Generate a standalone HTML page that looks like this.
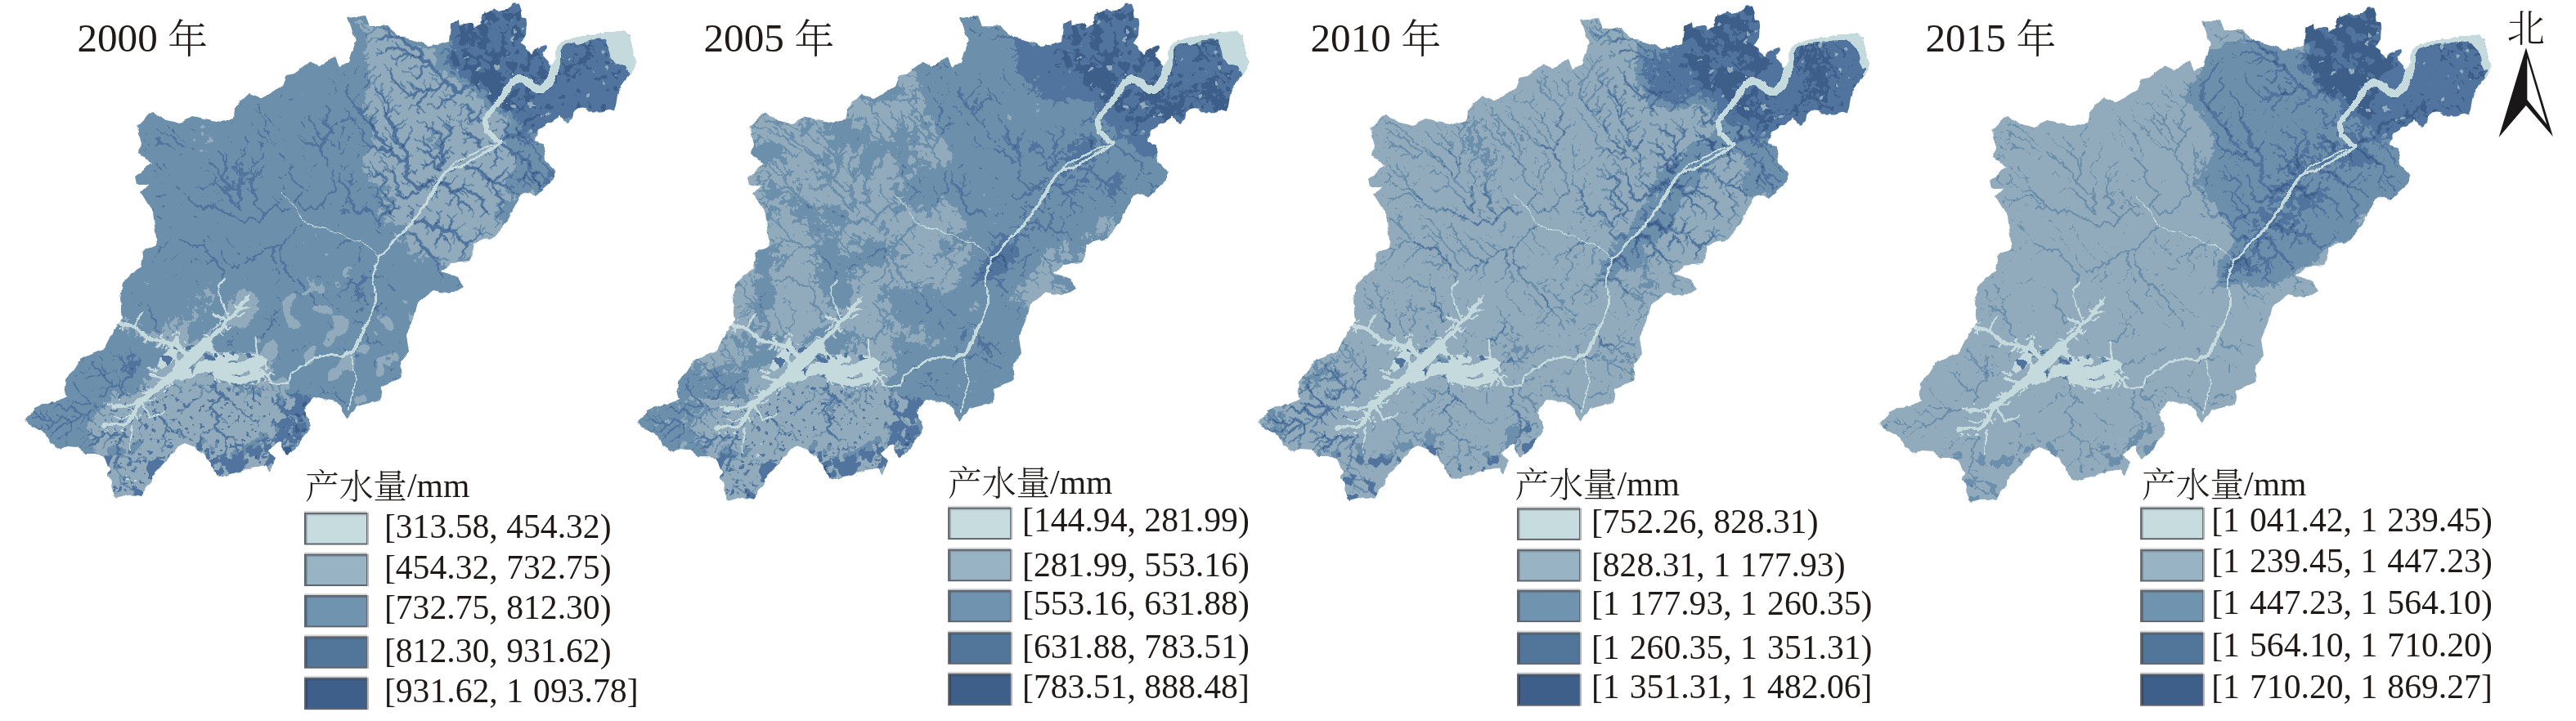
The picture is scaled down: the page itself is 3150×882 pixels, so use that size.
<!DOCTYPE html>
<html lang="zh"><head><meta charset="utf-8"><title>产水量</title>
<style>
html,body{margin:0;padding:0;background:#fff;}
body{width:3150px;height:882px;overflow:hidden;}
svg{display:block;}
text{fill:#1f1a17;font-weight:300;}
.tt{font-family:"Liberation Serif","Noto Serif CJK SC",serif;font-size:49.2px;}
.lt{font-family:"Liberation Serif","Noto Serif CJK SC",serif;font-size:41.67px;}
.lr{font-family:"Liberation Serif","Noto Serif CJK SC",serif;font-size:41.67px;}
.nn{font-family:"Liberation Serif","Noto Serif CJK SC",serif;font-size:46.5px;}
</style></head><body>
<svg width="3150" height="882" viewBox="0 0 3150 882">
<defs><clipPath id="clip"><path d="M360.0 90.0 L350.0 92.0 L345.0 105.0 L320.0 120.0 L305.0 114.0 L287.0 131.0 L286.0 145.0 L270.0 149.0 L250.0 145.0 L235.0 142.0 L220.0 150.0 L200.0 145.0 L186.0 136.0 L167.0 155.0 L172.0 175.0 L170.0 187.0 L185.0 200.0 L165.0 216.0 L167.0 225.0 L182.0 225.0 L172.0 235.0 L187.0 260.0 L192.0 300.0 L175.0 307.0 L172.0 325.0 L150.0 347.0 L147.0 365.0 L150.0 390.0 L137.0 407.0 L127.0 427.0 L115.0 432.0 L97.5 440.0 L90.0 452.0 L80.0 464.0 L79.0 474.0 L82.0 485.0 L72.0 490.0 L60.0 492.0 L51.0 495.0 L42.0 499.0 L37.0 506.0 L31.0 512.0 L35.0 519.0 L46.0 525.0 L55.0 530.0 L60.0 540.0 L75.0 550.0 L82.0 546.0 L94.0 547.0 L105.0 555.0 L117.0 555.0 L127.0 560.0 L132.0 570.0 L135.0 575.0 L131.0 579.0 L136.0 590.0 L135.0 595.0 L142.0 609.0 L160.0 604.0 L172.0 607.0 L180.0 595.0 L186.0 590.0 L185.0 582.0 L197.0 570.0 L207.0 560.0 L217.0 547.0 L227.0 541.0 L240.0 550.0 L250.0 557.0 L257.0 565.0 L262.0 577.0 L269.0 584.0 L282.0 580.0 L300.0 575.0 L312.0 572.0 L325.0 570.0 L330.0 577.0 L337.0 560.0 L327.0 552.0 L342.0 540.0 L350.0 557.0 L365.0 545.0 L380.0 520.0 L372.0 500.0 L385.0 485.0 L412.0 492.0 L425.0 512.0 L437.0 497.0 L465.0 490.0 L467.0 472.0 L492.0 462.0 L490.0 442.0 L500.0 430.0 L497.0 410.0 L505.0 390.0 L510.0 370.0 L530.0 355.0 L550.0 360.0 L567.0 350.0 L560.0 340.0 L540.0 332.0 L550.0 322.0 L575.0 320.0 L577.0 315.0 L580.0 297.0 L605.0 290.0 L620.0 272.0 L630.0 250.0 L640.0 235.0 L655.0 240.0 L677.0 220.0 L680.0 210.0 L667.0 197.0 L665.0 177.0 L655.0 172.0 L657.0 160.0 L685.0 142.0 L693.0 150.0 L700.0 145.0 L701.5 136.5 L710.0 131.5 L715.0 132.0 L720.0 136.5 L736.0 136.5 L743.0 134.0 L751.0 136.5 L753.0 128.0 L756.0 113.0 L760.0 105.0 L766.0 96.5 L770.0 91.5 L775.5 81.6 L779.0 74.0 L774.7 66.6 L772.0 53.0 L769.7 43.3 L763.0 39.0 L743.0 39.0 L720.0 43.3 L700.0 46.6 L686.5 51.6 L681.5 56.6 L679.0 70.0 L676.0 78.0 L673.0 80.0 L670.0 76.6 L664.0 70.0 L665.0 63.0 L669.0 57.4 L668.0 55.0 L661.6 56.6 L653.0 60.8 L651.6 65.8 L645.0 60.8 L641.6 56.6 L636.6 53.3 L643.0 43.0 L643.6 33.0 L642.4 22.0 L637.8 21.6 L636.5 13.0 L633.6 4.6 L626.5 4.6 L621.0 10.8 L610.0 13.0 L603.0 11.6 L594.5 16.0 L593.7 12.5 L593.0 16.0 L589.5 18.0 L587.5 26.0 L588.0 28.0 L580.8 33.0 L577.5 28.0 L568.0 30.0 L561.7 30.8 L561.0 25.0 L552.0 30.0 L550.0 50.0 L525.0 57.0 L510.0 50.0 L490.0 45.0 L475.0 32.0 L452.0 32.0 L447.0 19.0 L425.0 22.0 L435.0 50.0 L427.0 75.0 L415.0 82.0 L410.0 70.0 L390.0 80.0 L380.0 75.0Z"/></clipPath>
<mask id="mMID" maskUnits="userSpaceOnUse" x="-10" y="-10" width="820" height="640"><g filter="url(#mb10)"><polygon points="280.0,340.0 400.0,320.0 480.0,340.0 500.0,420.0 470.0,490.0 380.0,500.0 330.0,470.0 300.0,420.0" fill="#fff"/></g></mask>
<mask id="mSE" maskUnits="userSpaceOnUse" x="-10" y="-10" width="820" height="640"><g filter="url(#mb4)"><polygon points="337.0,469.0 360.0,475.0 385.0,480.0 395.0,520.0 380.0,560.0 340.0,590.0 250.0,600.0 249.0,560.0 300.0,545.0 335.0,520.0" fill="#fff"/></g></mask>
<mask id="mNEW" maskUnits="userSpaceOnUse" x="-10" y="-10" width="820" height="640"><g filter="url(#mb4)"><polygon points="550.0,0.0 650.0,0.0 650.0,60.0 640.0,100.0 625.0,152.0 612.0,130.0 590.0,128.0 570.0,108.0 548.0,80.0 548.0,30.0" fill="#fff"/></g></mask>
<mask id="mW" maskUnits="userSpaceOnUse" x="-10" y="-10" width="820" height="640"><g filter="url(#mb10)"><polygon points="0.0,0.0 420.0,0.0 440.0,120.0 400.0,250.0 330.0,360.0 280.0,420.0 200.0,470.0 120.0,480.0 0.0,560.0" fill="#fff"/></g></mask>
<mask id="mC" maskUnits="userSpaceOnUse" x="-10" y="-10" width="820" height="640"><g filter="url(#mb10)"><polygon points="425.0,20.0 470.0,30.0 520.0,60.0 560.0,100.0 600.0,125.0 640.0,140.0 660.0,165.0 670.0,200.0 680.0,215.0 655.0,245.0 630.0,255.0 605.0,295.0 575.0,320.0 545.0,330.0 520.0,320.0 500.0,290.0 470.0,270.0 455.0,235.0 437.0,205.0 448.0,170.0 438.0,140.0 452.0,100.0 440.0,75.0 445.0,50.0" fill="#fff"/></g></mask>
<mask id="mS" maskUnits="userSpaceOnUse" x="-10" y="-10" width="820" height="640"><g filter="url(#mb10)"><polygon points="130.0,480.0 200.0,470.0 260.0,465.0 330.0,470.0 360.0,480.0 380.0,520.0 360.0,560.0 300.0,600.0 130.0,620.0 125.0,560.0" fill="#fff"/></g></mask>
<mask id="mSB" maskUnits="userSpaceOnUse" x="-10" y="-10" width="820" height="640"><g filter="url(#mb10)"><polygon points="120.0,540.0 180.0,560.0 230.0,540.0 270.0,560.0 340.0,540.0 385.0,500.0 400.0,560.0 300.0,620.0 120.0,620.0" fill="#fff"/></g></mask>
<mask id="mNE" maskUnits="userSpaceOnUse" x="-10" y="-10" width="820" height="640"><g filter="url(#mb4)"><polygon points="550.0,0.0 800.0,0.0 800.0,145.0 690.0,152.0 655.0,165.0 625.0,152.0 612.0,130.0 590.0,128.0 570.0,108.0 548.0,80.0 548.0,30.0" fill="#fff"/></g></mask>
<mask id="mCORR" maskUnits="userSpaceOnUse" x="-10" y="-10" width="820" height="640"><g filter="url(#mb10)"><polygon points="600.0,135.0 625.0,170.0 580.0,215.0 550.0,235.0 535.0,270.0 500.0,310.0 480.0,345.0 455.0,350.0 450.0,320.0 480.0,280.0 505.0,240.0 520.0,205.0 560.0,185.0 585.0,160.0" fill="#fff"/></g></mask>
<mask id="mC3" maskUnits="userSpaceOnUse" x="-10" y="-10" width="820" height="640"><g filter="url(#mb10)"><polygon points="424.0,67.0 460.0,50.0 500.0,45.0 550.0,60.0 600.0,100.0 690.0,150.0 692.0,215.0 670.0,245.0 640.0,262.0 613.0,283.0 585.0,295.0 535.0,328.0 502.0,350.0 452.0,335.0 463.0,261.0 424.0,217.0 435.0,161.0 413.0,106.0" fill="#fff"/></g></mask>
<mask id="mSW" maskUnits="userSpaceOnUse" x="-10" y="-10" width="820" height="640"><g filter="url(#mb10)"><polygon points="30.0,480.0 120.0,440.0 170.0,480.0 150.0,540.0 90.0,560.0 30.0,530.0" fill="#fff"/></g></mask>
<filter id="mb4" x="-60" y="-60" width="920" height="740" filterUnits="userSpaceOnUse" color-interpolation-filters="sRGB"><feTurbulence type="fractalNoise" baseFrequency="0.022" numOctaves="2" seed="9" result="t"/><feDisplacementMap in="SourceGraphic" in2="t" scale="45" xChannelSelector="R" yChannelSelector="G"/><feGaussianBlur stdDeviation="4"/></filter>
<filter id="mb10" x="-60" y="-60" width="920" height="740" filterUnits="userSpaceOnUse" color-interpolation-filters="sRGB"><feTurbulence type="fractalNoise" baseFrequency="0.022" numOctaves="2" seed="9" result="t"/><feDisplacementMap in="SourceGraphic" in2="t" scale="45" xChannelSelector="R" yChannelSelector="G"/><feGaussianBlur stdDeviation="10"/></filter>
<mask id="mLake" maskUnits="userSpaceOnUse" x="-10" y="-10" width="820" height="640"><use href="#lakeh" stroke="#fff" stroke-width="17"/></mask>
<filter id="blur" x="-60" y="-60" width="920" height="740" filterUnits="userSpaceOnUse" color-interpolation-filters="sRGB"><feTurbulence type="fractalNoise" baseFrequency="0.022" numOctaves="2" seed="9" result="t"/><feDisplacementMap in="SourceGraphic" in2="t" scale="45" xChannelSelector="R" yChannelSelector="G"/><feGaussianBlur stdDeviation="5"/></filter>
<filter id="blur1" x="-60" y="-60" width="920" height="740" filterUnits="userSpaceOnUse" color-interpolation-filters="sRGB"><feGaussianBlur stdDeviation="0.8"/></filter>
<filter id="rough" x="-10" y="-10" width="820" height="640" filterUnits="userSpaceOnUse" color-interpolation-filters="sRGB"><feTurbulence type="fractalNoise" baseFrequency="0.09" numOctaves="2" seed="4" result="t"/><feDisplacementMap in="SourceGraphic" in2="t" scale="5" xChannelSelector="R" yChannelSelector="G"/></filter>
<filter id="q0" x="0" y="0" width="800" height="620" filterUnits="userSpaceOnUse" color-interpolation-filters="sRGB"><feTurbulence type="fractalNoise" baseFrequency="0.015" numOctaves="3" seed="3" result="n0"/><feColorMatrix in="n0" type="matrix" values="1 0 0 0 0  1 0 0 0 0  1 0 0 0 0  0 0 0 0 1" result="n1"/><feTurbulence type="fractalNoise" baseFrequency="0.12" numOctaves="3" seed="53" result="m0"/><feColorMatrix in="m0" type="matrix" values="1 0 0 0 0  1 0 0 0 0  1 0 0 0 0  0 0 0 0 1" result="m1"/><feComposite in="n1" in2="m1" operator="arithmetic" k1="0" k2="0.300" k3="0.160" k4="0.270" result="nm"/><feComposite in="SourceGraphic" in2="nm" operator="arithmetic" k1="0" k2="1" k3="1" k4="-0.5" result="a"/><feColorMatrix in="a" type="matrix" values="1 0 0 0 0  0 1 0 0 0  0 0 1 0 0  0 0 0 0 1" result="c"/><feComponentTransfer in="c"><feFuncR type="discrete" tableValues="0.776 0.776 0.776 0.776 0.569 0.569 0.569 0.569 0.427 0.427 0.427 0.427 0.314 0.314 0.314 0.314 0.239 0.239 0.239 0.239"/><feFuncG type="discrete" tableValues="0.855 0.855 0.855 0.855 0.671 0.671 0.671 0.671 0.561 0.561 0.561 0.561 0.455 0.455 0.455 0.455 0.369 0.369 0.369 0.369"/><feFuncB type="discrete" tableValues="0.867 0.867 0.867 0.867 0.741 0.741 0.741 0.741 0.678 0.678 0.678 0.678 0.616 0.616 0.616 0.616 0.541 0.541 0.541 0.541"/></feComponentTransfer></filter>
<filter id="q1" x="0" y="0" width="800" height="620" filterUnits="userSpaceOnUse" color-interpolation-filters="sRGB"><feTurbulence type="fractalNoise" baseFrequency="0.02" numOctaves="3" seed="8" result="n0"/><feColorMatrix in="n0" type="matrix" values="1 0 0 0 0  1 0 0 0 0  1 0 0 0 0  0 0 0 0 1" result="n1"/><feTurbulence type="fractalNoise" baseFrequency="0.12" numOctaves="3" seed="58" result="m0"/><feColorMatrix in="m0" type="matrix" values="1 0 0 0 0  1 0 0 0 0  1 0 0 0 0  0 0 0 0 1" result="m1"/><feComposite in="n1" in2="m1" operator="arithmetic" k1="0" k2="0.340" k3="0.160" k4="0.250" result="nm"/><feComposite in="SourceGraphic" in2="nm" operator="arithmetic" k1="0" k2="1" k3="1" k4="-0.5" result="a"/><feColorMatrix in="a" type="matrix" values="1 0 0 0 0  0 1 0 0 0  0 0 1 0 0  0 0 0 0 1" result="c"/><feComponentTransfer in="c"><feFuncR type="discrete" tableValues="0.776 0.776 0.776 0.776 0.569 0.569 0.569 0.569 0.427 0.427 0.427 0.427 0.314 0.314 0.314 0.314 0.239 0.239 0.239 0.239"/><feFuncG type="discrete" tableValues="0.855 0.855 0.855 0.855 0.671 0.671 0.671 0.671 0.561 0.561 0.561 0.561 0.455 0.455 0.455 0.455 0.369 0.369 0.369 0.369"/><feFuncB type="discrete" tableValues="0.867 0.867 0.867 0.867 0.741 0.741 0.741 0.741 0.678 0.678 0.678 0.678 0.616 0.616 0.616 0.616 0.541 0.541 0.541 0.541"/></feComponentTransfer></filter>
<filter id="q2" x="0" y="0" width="800" height="620" filterUnits="userSpaceOnUse" color-interpolation-filters="sRGB"><feTurbulence type="fractalNoise" baseFrequency="0.015" numOctaves="3" seed="12" result="n0"/><feColorMatrix in="n0" type="matrix" values="1 0 0 0 0  1 0 0 0 0  1 0 0 0 0  0 0 0 0 1" result="n1"/><feTurbulence type="fractalNoise" baseFrequency="0.14" numOctaves="3" seed="62" result="m0"/><feColorMatrix in="m0" type="matrix" values="1 0 0 0 0  1 0 0 0 0  1 0 0 0 0  0 0 0 0 1" result="m1"/><feComposite in="n1" in2="m1" operator="arithmetic" k1="0" k2="0.220" k3="0.180" k4="0.300" result="nm"/><feComposite in="SourceGraphic" in2="nm" operator="arithmetic" k1="0" k2="1" k3="1" k4="-0.5" result="a"/><feColorMatrix in="a" type="matrix" values="1 0 0 0 0  0 1 0 0 0  0 0 1 0 0  0 0 0 0 1" result="c"/><feComponentTransfer in="c"><feFuncR type="discrete" tableValues="0.776 0.776 0.776 0.776 0.569 0.569 0.569 0.569 0.427 0.427 0.427 0.427 0.314 0.314 0.314 0.314 0.239 0.239 0.239 0.239"/><feFuncG type="discrete" tableValues="0.855 0.855 0.855 0.855 0.671 0.671 0.671 0.671 0.561 0.561 0.561 0.561 0.455 0.455 0.455 0.455 0.369 0.369 0.369 0.369"/><feFuncB type="discrete" tableValues="0.867 0.867 0.867 0.867 0.741 0.741 0.741 0.741 0.678 0.678 0.678 0.678 0.616 0.616 0.616 0.616 0.541 0.541 0.541 0.541"/></feComponentTransfer></filter>
<filter id="q3" x="0" y="0" width="800" height="620" filterUnits="userSpaceOnUse" color-interpolation-filters="sRGB"><feTurbulence type="fractalNoise" baseFrequency="0.015" numOctaves="3" seed="21" result="n0"/><feColorMatrix in="n0" type="matrix" values="1 0 0 0 0  1 0 0 0 0  1 0 0 0 0  0 0 0 0 1" result="n1"/><feTurbulence type="fractalNoise" baseFrequency="0.14" numOctaves="3" seed="71" result="m0"/><feColorMatrix in="m0" type="matrix" values="1 0 0 0 0  1 0 0 0 0  1 0 0 0 0  0 0 0 0 1" result="m1"/><feComposite in="n1" in2="m1" operator="arithmetic" k1="0" k2="0.200" k3="0.160" k4="0.320" result="nm"/><feComposite in="SourceGraphic" in2="nm" operator="arithmetic" k1="0" k2="1" k3="1" k4="-0.5" result="a"/><feColorMatrix in="a" type="matrix" values="1 0 0 0 0  0 1 0 0 0  0 0 1 0 0  0 0 0 0 1" result="c"/><feComponentTransfer in="c"><feFuncR type="discrete" tableValues="0.776 0.776 0.776 0.776 0.569 0.569 0.569 0.569 0.427 0.427 0.427 0.427 0.314 0.314 0.314 0.314 0.239 0.239 0.239 0.239"/><feFuncG type="discrete" tableValues="0.855 0.855 0.855 0.855 0.671 0.671 0.671 0.671 0.561 0.561 0.561 0.561 0.455 0.455 0.455 0.455 0.369 0.369 0.369 0.369"/><feFuncB type="discrete" tableValues="0.867 0.867 0.867 0.867 0.741 0.741 0.741 0.741 0.678 0.678 0.678 0.678 0.616 0.616 0.616 0.616 0.541 0.541 0.541 0.541"/></feComponentTransfer></filter>
<filter id="b0_0" x="0" y="0" width="800" height="620" filterUnits="userSpaceOnUse" color-interpolation-filters="sRGB"><feTurbulence type="fractalNoise" baseFrequency="0.035" numOctaves="2" seed="31"/><feColorMatrix type="matrix" values="0 0 0 0 0.330  0 0 0 0 0.330  0 0 0 0 0.330  60.0 0 0 0 -36.00"/></filter>
<filter id="b0_1" x="0" y="0" width="800" height="620" filterUnits="userSpaceOnUse" color-interpolation-filters="sRGB"><feTurbulence type="fractalNoise" baseFrequency="0.07" numOctaves="2" seed="9"/><feColorMatrix type="matrix" values="0 0 0 0 0.720  0 0 0 0 0.720  0 0 0 0 0.720  60.0 0 0 0 -30.00"/></filter>
<filter id="b0_2" x="0" y="0" width="800" height="620" filterUnits="userSpaceOnUse" color-interpolation-filters="sRGB"><feTurbulence type="fractalNoise" baseFrequency="0.16" numOctaves="2" seed="5"/><feColorMatrix type="matrix" values="0 0 0 0 0.720  0 0 0 0 0.720  0 0 0 0 0.720  60.0 0 0 0 -39.60"/></filter>
<filter id="b0_3" x="0" y="0" width="800" height="620" filterUnits="userSpaceOnUse" color-interpolation-filters="sRGB"><feTurbulence type="fractalNoise" baseFrequency="0.05" numOctaves="2" seed="9"/><feColorMatrix type="matrix" values="0 0 0 0 0.750  0 0 0 0 0.750  0 0 0 0 0.750  60.0 0 0 0 -33.60"/></filter>
<filter id="b0_4" x="0" y="0" width="800" height="620" filterUnits="userSpaceOnUse" color-interpolation-filters="sRGB"><feTurbulence type="fractalNoise" baseFrequency="0.08" numOctaves="2" seed="6"/><feColorMatrix type="matrix" values="0 0 0 0 0.920  0 0 0 0 0.920  0 0 0 0 0.920  60.0 0 0 0 -33.00"/></filter>
<filter id="b0_5" x="0" y="0" width="800" height="620" filterUnits="userSpaceOnUse" color-interpolation-filters="sRGB"><feTurbulence type="fractalNoise" baseFrequency="0.08" numOctaves="2" seed="6"/><feColorMatrix type="matrix" values="0 0 0 0 0.920  0 0 0 0 0.920  0 0 0 0 0.920  60.0 0 0 0 -39.60"/></filter>
<filter id="b0_6" x="0" y="0" width="800" height="620" filterUnits="userSpaceOnUse" color-interpolation-filters="sRGB"><feTurbulence type="fractalNoise" baseFrequency="0.09" numOctaves="2" seed="16"/><feColorMatrix type="matrix" values="0 0 0 0 0.320  0 0 0 0 0.320  0 0 0 0 0.320  60.0 0 0 0 -44.40"/></filter>
<filter id="b1_0" x="0" y="0" width="800" height="620" filterUnits="userSpaceOnUse" color-interpolation-filters="sRGB"><feTurbulence type="fractalNoise" baseFrequency="0.07" numOctaves="2" seed="9"/><feColorMatrix type="matrix" values="0 0 0 0 0.720  0 0 0 0 0.720  0 0 0 0 0.720  60.0 0 0 0 -30.00"/></filter>
<filter id="b1_1" x="0" y="0" width="800" height="620" filterUnits="userSpaceOnUse" color-interpolation-filters="sRGB"><feTurbulence type="fractalNoise" baseFrequency="0.16" numOctaves="2" seed="5"/><feColorMatrix type="matrix" values="0 0 0 0 0.720  0 0 0 0 0.720  0 0 0 0 0.720  60.0 0 0 0 -40.80"/></filter>
<filter id="b1_2" x="0" y="0" width="800" height="620" filterUnits="userSpaceOnUse" color-interpolation-filters="sRGB"><feTurbulence type="fractalNoise" baseFrequency="0.05" numOctaves="2" seed="9"/><feColorMatrix type="matrix" values="0 0 0 0 0.750  0 0 0 0 0.750  0 0 0 0 0.750  60.0 0 0 0 -33.60"/></filter>
<filter id="b1_3" x="0" y="0" width="800" height="620" filterUnits="userSpaceOnUse" color-interpolation-filters="sRGB"><feTurbulence type="fractalNoise" baseFrequency="0.08" numOctaves="2" seed="6"/><feColorMatrix type="matrix" values="0 0 0 0 0.920  0 0 0 0 0.920  0 0 0 0 0.920  60.0 0 0 0 -33.00"/></filter>
<filter id="b1_4" x="0" y="0" width="800" height="620" filterUnits="userSpaceOnUse" color-interpolation-filters="sRGB"><feTurbulence type="fractalNoise" baseFrequency="0.08" numOctaves="2" seed="6"/><feColorMatrix type="matrix" values="0 0 0 0 0.920  0 0 0 0 0.920  0 0 0 0 0.920  60.0 0 0 0 -39.60"/></filter>
<filter id="b1_5" x="0" y="0" width="800" height="620" filterUnits="userSpaceOnUse" color-interpolation-filters="sRGB"><feTurbulence type="fractalNoise" baseFrequency="0.09" numOctaves="2" seed="16"/><feColorMatrix type="matrix" values="0 0 0 0 0.320  0 0 0 0 0.320  0 0 0 0 0.320  60.0 0 0 0 -44.40"/></filter>
<filter id="b2_0" x="0" y="0" width="800" height="620" filterUnits="userSpaceOnUse" color-interpolation-filters="sRGB"><feTurbulence type="fractalNoise" baseFrequency="0.06" numOctaves="2" seed="5"/><feColorMatrix type="matrix" values="0 0 0 0 0.720  0 0 0 0 0.720  0 0 0 0 0.720  60.0 0 0 0 -34.20"/></filter>
<filter id="b2_1" x="0" y="0" width="800" height="620" filterUnits="userSpaceOnUse" color-interpolation-filters="sRGB"><feTurbulence type="fractalNoise" baseFrequency="0.06" numOctaves="2" seed="6"/><feColorMatrix type="matrix" values="0 0 0 0 0.920  0 0 0 0 0.920  0 0 0 0 0.920  60.0 0 0 0 -30.00"/></filter>
<filter id="b2_2" x="0" y="0" width="800" height="620" filterUnits="userSpaceOnUse" color-interpolation-filters="sRGB"><feTurbulence type="fractalNoise" baseFrequency="0.09" numOctaves="2" seed="16"/><feColorMatrix type="matrix" values="0 0 0 0 0.320  0 0 0 0 0.320  0 0 0 0 0.320  60.0 0 0 0 -44.40"/></filter>
<filter id="b3_0" x="0" y="0" width="800" height="620" filterUnits="userSpaceOnUse" color-interpolation-filters="sRGB"><feTurbulence type="fractalNoise" baseFrequency="0.06" numOctaves="2" seed="5"/><feColorMatrix type="matrix" values="0 0 0 0 0.550  0 0 0 0 0.550  0 0 0 0 0.550  60.0 0 0 0 -34.80"/></filter>
<filter id="b3_1" x="0" y="0" width="800" height="620" filterUnits="userSpaceOnUse" color-interpolation-filters="sRGB"><feTurbulence type="fractalNoise" baseFrequency="0.06" numOctaves="2" seed="6"/><feColorMatrix type="matrix" values="0 0 0 0 0.950  0 0 0 0 0.950  0 0 0 0 0.950  60.0 0 0 0 -27.60"/></filter>
<filter id="b3_2" x="0" y="0" width="800" height="620" filterUnits="userSpaceOnUse" color-interpolation-filters="sRGB"><feTurbulence type="fractalNoise" baseFrequency="0.09" numOctaves="2" seed="16"/><feColorMatrix type="matrix" values="0 0 0 0 0.320  0 0 0 0 0.320  0 0 0 0 0.320  60.0 0 0 0 -44.40"/></filter>
<clipPath id="cBlob"><polygon points="253.0,416.0 240.0,419.0 231.0,420.0 222.0,414.0 214.0,416.0 208.0,424.0 198.0,436.0 192.0,448.0 200.0,456.0 210.0,462.0 222.0,466.0 232.0,462.0 246.0,456.0 262.0,462.0 285.0,469.0 300.0,469.0 312.0,465.0 325.0,460.0 329.0,455.0 322.0,440.0 312.0,433.0 298.0,432.0 284.0,429.0 270.0,433.0 262.0,428.0 258.0,420.0"/></clipPath>
<filter id="isl" x="180" y="400" width="160" height="80" filterUnits="userSpaceOnUse" color-interpolation-filters="sRGB"><feTurbulence type="fractalNoise" baseFrequency="0.06" numOctaves="2" seed="41"/><feColorMatrix type="matrix" values="0 0 0 0 0.340  0 0 0 0 0.340  0 0 0 0 0.340  60 0 0 0 -30.00"/></filter>
<filter id="isl2" x="180" y="400" width="160" height="80" filterUnits="userSpaceOnUse" color-interpolation-filters="sRGB"><feTurbulence type="fractalNoise" baseFrequency="0.09" numOctaves="2" seed="43"/><feColorMatrix type="matrix" values="0 0 0 0 0.620  0 0 0 0 0.620  0 0 0 0 0.620  60 0 0 0 -36.00"/></filter>
<path id="v1" fill="none" stroke-linecap="round" stroke-linejoin="round" d="M235 470l10 10M235 362l2 2l2 0l2 2M645 70l-2 2M670 118l-2 2l-2 -2M605 238l2 -2M510 250l2 2l2 0M408 298l5 5M185 440l5 -5l0 -2M445 48l2 -2M655 132l-8 8l0 2l-2 2l0 2M520 138l-8 -8M482 385l2 -2l0 -2l-2 -2l2 -2l-2 -2l0 -2M435 475l-5 5M325 480l-5 -5l-2 0M632 48l-2 2l2 2l-2 2M485 80l-2 -2l2 -2l0 -2l2 -2M622 112l-2 -2M742 130l-5 -5l-5 5l-2 0M420 162l-8 8l0 2l2 2M210 200l0 2l2 2l0 2l2 2M672 208l-12 -12M595 212l-2 2M232 238l-2 2M550 238l2 -2M608 252l2 -2M350 270l-2 -2l0 -2l-2 -2M510 285l-2 2M300 300l2 -2M562 315l5 -5M180 328l10 -10l0 -2M155 355l5 5l2 -2M152 375l5 -5l2 0l2 -2M355 378l-2 0M492 415l-2 2l-2 0M288 440l2 -2l-5 -5l2 -2M238 448l2 -2l2 2M168 475l5 5l5 0M318 485l-2 -2l0 -2l2 -2l0 -2M70 538l2 -2l2 0l5 -5l2 0M160 552l-2 2l0 2l-2 2M515 58l0 5M498 100l10 10l2 -2M670 102l0 -2M478 142l-2 2l0 2M535 142l15 15l0 2M232 152l0 2l2 2M290 162l-5 5l0 2l-2 2l0 2l-2 2M175 170l8 8l2 -2l2 2l5 0M568 175l2 -2l0 -2l2 -2l2 0M445 190l5 -5l0 -2l2 -2M628 200l2 -2l0 -8l-2 -2M302 230l5 5M460 245l2 2l2 0l2 2M588 265l8 -8M212 312l5 0M360 312l2 -2l2 0l2 -2M418 328l0 -2l-2 -2M432 330l0 -2l2 -2l0 -2l2 -2M482 330l2 -2l-2 -2M548 342l-2 -2M155 362l2 2l2 0l2 2M300 362l0 2M415 418l5 5M428 418l-2 0l-2 2M130 425l5 5M402 425l2 2l0 2l-2 2M220 468l-2 2l-2 0M298 472l2 2M425 475l5 5M300 492l-2 -2l0 -2l5 -5l0 -5M242 500l2 -2l5 5M258 505l-2 -2M360 510l-2 -2l-2 2M42 520l5 5l2 0l2 -2l2 2l2 0M208 530l0 -2l2 -2M175 535l0 -2l-5 -5l0 -2M592 35l-2 0l-5 5l2 2M638 38l-2 2l-2 -2l-2 0M435 62l2 2l-2 2l2 2l0 2l2 2l0 2M458 92l-8 8M708 100l-5 -5l0 -2M698 108l-2 2l0 2M528 120l2 -2l0 -2l5 -5M522 130l2 -2l2 0l5 5l2 0M718 130l-2 -2l0 -2l-5 -5l0 -2M638 148l0 2l-8 8M430 150l2 -2M600 150l-2 2l-2 0M540 155l2 -2l8 8M330 162l-2 2M438 162l5 5l0 2M368 172l2 0M280 188l-2 2M535 188l2 0M360 195l-5 5M228 215l-2 2l0 2l-5 5l0 2M545 218l-5 5M355 222l2 2l5 0M450 230l2 -2l2 2l2 -2l2 2M182 235l5 5M282 248l2 0M450 252l-2 2M500 252l5 5l-2 2l0 2l2 2l0 2M550 252l2 -2l0 -5l5 -5M218 255l2 -2M402 268l-2 -2l0 -5l-5 -5M412 270l-2 2l5 5l-5 5M318 272l2 2l2 0l5 5M190 278l5 -5l2 0l2 2l2 -2M595 278l-2 0l-5 5l0 2M218 280l-2 2l0 2M308 282l2 2l2 0l5 5l-2 2l2 2M238 310l5 0l2 2l2 0l5 -5M182 312l10 -10M178 318l2 0l2 2l5 -5l2 0M240 332l2 2l0 2l-2 2l0 2M500 340l-2 -2l2 -2M290 342l-2 -2M308 348l-5 -5M330 350l2 -2M428 358l10 -10M305 360l-5 5M468 378l-2 2l-5 -5l-2 0M490 378l-8 -8M180 385l2 0l2 2M448 390l2 0M202 402l0 2l-5 5M278 428l-2 -2l5 -5M128 432l2 2l5 -5M292 438l-2 -2M488 438l-2 2l-10 -10M365 442l5 5M168 445l-5 5M215 445l-2 -2M385 448l-5 -5M278 455l-2 -2l0 -2M390 458l0 2l-2 2l2 2l-2 2l0 2M338 460l-2 -2l-2 0l-2 -2l-2 2l-2 0M315 492l-5 -5M368 502l0 -2l2 -2l0 -2l-5 -5M195 518l0 -2l2 -2l0 -2M318 538l5 5l5 -5M138 545l5 -5M185 548l2 -2l2 2l2 0l2 2l2 -2M112 550l-2 -2l0 -2M188 565l2 -2l0 -2l8 -8M140 590l2 -2l2 0l2 -2M575 55l-2 2M730 62l-2 2M450 65l-5 5l0 2M450 70l-2 2l-2 0M460 80l-10 10l-2 0M642 88l-8 8M755 92l-2 -2M728 98l0 -2l-10 -10M638 105l-2 -2l-5 0l-8 8l-2 -2M708 110l-2 0l-5 5M725 120l-5 0l-2 -2l-2 2M480 122l-5 5M650 125l-5 0M295 128l-5 5l-2 0l-2 2l0 2l2 2M350 130l2 2l0 2l2 2l0 2l5 5l2 -2M330 135l2 2l2 0l5 5l2 0M490 138l-2 2l-5 -5l-2 0l-2 2l-2 0M610 140l5 -5l0 -5M310 142l0 8l-2 2M498 145l-2 2l-2 0l-8 8M175 150l8 -8l5 5M295 155l5 5l0 8M555 155l-2 2M648 165l-2 -2l-5 5M428 168l-2 2l0 2l-2 2l0 5l-5 5M510 180l2 2l2 0l2 2M552 180l-2 2l0 2l-2 2M178 182l10 10l0 2l2 2M625 182l-2 0M190 188l10 10M238 198l2 2l2 -2l5 5l-2 2M342 198l2 2l2 -2l5 0M280 202l8 8M638 202l2 -2l-2 -2l2 -2M252 205l2 2M470 205l5 5l2 0l2 2M235 208l2 2l2 0l2 -2M248 210l2 0M400 212l-2 2l5 5M492 212l2 2M670 218l-2 2l-5 -5l0 -2l-2 -2l-2 0M508 228l8 0l2 2l2 -2M522 232l0 -2M305 235l2 2l2 0M432 245l-2 2l0 2M592 245l-5 -5M448 248l-2 2l2 2l0 2M582 248l5 -5M382 252l-5 5M198 258l5 5l-2 2l2 2M258 258l5 -5M572 258l2 -2M442 260l2 0M598 262l-2 -2l0 -2M210 268l0 5l-2 2M435 268l2 -2M330 280l0 -2M530 282l-2 -2M202 285l8 8M298 285l2 2l2 0l8 8l2 0M490 288l2 -2M460 302l5 5l-2 2l2 2M375 312l5 -5l0 -2l-2 -2l2 -2M420 312l-2 -2l2 -2l2 0l5 -5M210 325l-2 -2l5 -5M442 330l5 5l2 0l2 -2M238 338l2 2M500 360l-2 0M412 365l0 -2l5 -5M495 365l0 -5M150 368l2 2l5 -5M302 368l-2 -2M332 375l0 2l5 5M425 378l-5 5M430 380l-8 0M272 388l0 2M498 392l-2 -2l0 -2M160 400l-2 -2M155 412l0 2l2 2l8 0M445 422l2 -2l0 -2M338 428l-2 2l-2 -2l-2 0l-2 2l5 5l0 2M412 428l8 0M452 428l-5 5M465 430l-10 -10M368 432l-2 -2l0 -2M400 435l-5 0M170 438l12 12M192 438l-2 -2M440 438l-2 -2M172 455l2 0l5 -5l2 0M312 455l2 2M238 458l0 -5l5 -5M345 462l-2 2l0 2M462 465l-2 2l0 2l-2 2l2 2l-2 2M80 470l5 5l2 0l2 -2M285 475l-5 -5l0 -2M280 478l0 -2l-2 -2l2 -2M450 480l-2 -2l-2 0M200 492l-5 -5l-5 0l-2 2M142 500l2 -2l0 -2M38 510l2 2l2 0l2 -2l2 0M372 515l-2 0M125 530l2 0M235 530l-2 2l-2 0l-2 2M325 532l5 0l5 -5l0 -2l2 -2M365 532l-2 -2l-2 0l-8 -8M130 538l2 0l2 -2M268 538l5 -5M305 542l-8 0l-2 2M318 545l2 -2l2 0M140 558l2 -2l0 -2M295 572l5 -5l0 -5M185 575l-5 -5l2 -2l-5 -5M265 575l-5 -5l2 -2l0 -2M172 585l-2 2l-2 0l-2 -2l-5 0M148 600l-2 -2l0 -2l2 -2M628 8l-10 10l0 2M580 38l2 2l0 2l2 2M612 42l2 2M760 42l-2 0l-2 -2l-2 0l-2 -2l-2 2l-2 0M688 58l-2 0M710 58l5 -5M480 62l2 -2M462 68l2 -2l2 0l2 -2M608 72l2 0M492 75l10 -10M452 78l-8 8l0 2l2 2M542 80l2 -2l2 0l2 -2l5 0M380 82l0 2l-2 2l5 5M682 82l-2 -2l-2 0M385 90l-2 2M465 90l-5 5l0 2l-5 5l2 2l0 2M582 90l2 -2l2 2l5 -5M715 90l-2 -2M562 92l2 2l10 -10l2 2M392 95l0 2l5 5l0 8M508 95l2 0M612 95l2 -2M618 95l0 -2M550 100l-2 2M658 100l-2 -2l-2 2M355 102l-2 2l2 2l-5 5l-2 0l-2 2M722 102l-2 0l-10 -10M360 105l2 2l0 2l5 5l0 2M565 105l5 5M432 112l-5 5l0 2l-2 2M595 112l2 0l2 2l2 -2l2 0M405 115l-2 2M645 115l2 2l-2 2l0 5M728 115l-5 -5l-8 8l-2 0M340 118l2 2M570 118l8 -8M328 120l12 12l0 2M600 120l5 -5l0 -2M610 120l2 0M380 122l5 5l0 2l-5 5M540 122l2 0M690 122l-2 2l2 2M455 125l-8 8M705 125l-2 2l0 2l-10 10l-2 -2M490 128l-2 2l-5 0l-8 8M555 130l2 -2l0 -2l-5 -5M460 132l2 2l0 2l-8 8M392 135l0 2l2 2l0 5l2 2l-2 2M500 135l0 -2l2 -2l0 -2l2 -2l2 2l2 0M622 145l0 8M248 148l2 2l0 2l5 5l0 5M462 148l-5 5l2 2l0 2l-2 2M275 152l0 2l2 2M402 152l2 2l0 2M178 155l2 2l2 -2l2 0l2 -2l5 5M472 155l0 2l5 5l0 5l2 2M502 155l2 2l0 2l-2 2l0 2l-2 2M372 158l2 2M608 158l-2 2l-2 0l-2 2l-2 0M270 160l5 5M650 160l-2 2l-2 0M488 168l-2 2l0 2M232 170l2 2l-2 2M265 170l0 5M458 170l2 2M590 170l-2 2M250 172l2 2M315 172l2 2l2 0l2 2l0 5l-2 2l2 2M540 172l2 2M532 175l2 2l2 0l2 2M310 182l0 8l-2 2l2 2l0 2M510 185l2 -2M615 185l-2 0l-5 -5l-2 2M340 188l2 0M438 188l0 5l-5 5l-2 0l-2 2M565 188l5 5M595 190l0 -2l2 -2l0 -2M648 190l-5 5M348 195l2 2M372 198l2 0l2 2M488 198l2 0M308 202l0 2M432 205l0 2l2 2l-5 5M510 208l-2 2l-2 0l-2 -2l-5 5M262 210l-2 2M172 215l5 -5l5 0l2 -2l2 0M335 215l2 0M390 215l-2 2l0 2l5 5M420 218l8 8M570 218l-2 2l0 5M178 220l2 2l2 -2l2 0M590 220l2 -2l-10 -10M242 222l-2 2l5 5M282 222l2 0l8 8M365 222l2 2l2 0l5 5M250 228l2 2M200 230l2 2l2 0l5 -5M255 230l0 -2M320 230l-8 8l0 2M538 232l-2 2l-2 0M192 235l5 0l2 2M382 238l-2 0l-2 -2M485 238l2 2M615 238l-2 0l-2 -2l-2 0M235 245l8 8M372 245l-5 5l-2 0l-2 2l-2 0M402 245l-2 2l-5 0M628 248l-2 -2l0 -2l2 -2l0 -2M182 255l0 2l8 8l2 0M462 255l5 -5M540 258l-2 2l0 8l-2 2M535 260l2 2M245 262l2 2l2 0l2 2l2 0l8 8M420 262l0 -2l2 -2M308 268l2 2M340 268l5 -5M392 268l-8 -8M380 270l-8 0M250 272l-2 2M292 272l2 0l2 2l5 -5M568 272l-5 5l-2 0l-2 2M408 275l2 2l0 5M588 275l0 2l-2 2l0 2M385 278l-2 2l-12 0l-2 -2l2 -2M450 278l0 -5l2 -2l2 0M442 280l8 -8M232 282l5 0l2 2M358 282l2 0M328 285l-2 -2l2 -2M362 288l-2 -2l0 -2M385 288l-10 10M522 288l0 -2l2 -2l0 -2l-2 -2M565 288l-2 2M280 290l-2 2M450 290l-2 2l0 2l2 2l0 2M530 298l2 0M398 305l2 2M448 305l0 -2l2 -2M488 308l0 -2l-2 -2l2 -2l2 0l2 -2M550 308l0 -8l-5 -5M232 315l2 0l2 2M568 315l2 -2l-2 -2M285 320l0 2l2 2M295 320l2 2M495 320l5 -5l2 0l5 -5M512 322l-2 -2l0 -5l2 -2l0 -2l2 -2l0 -2M322 325l2 -2l0 -2l2 -2l2 0l2 -2M190 332l10 10M510 332l-2 -2l0 -5l-2 -2M182 338l-8 8l2 2M258 340l2 0l8 -8l2 2M415 345l5 0l2 2l2 0M482 345l-5 5M535 345l2 -2l2 0M490 348l-2 2M560 348l2 -2l-2 -2l-2 0l-2 -2l-2 2l-5 -5l-2 2M210 352l0 -2l2 -2l2 0l5 -5l2 0M550 352l-2 0l-2 -2l-2 0l-2 -2M372 355l0 -2M220 358l-2 2l0 2l-2 2l0 2M402 358l-2 -2l-2 2l-2 0l-2 2M522 358l-2 2l-2 0l-2 -2l-2 0l-2 -2l-2 0M182 360l-2 2M195 360l0 -2l-2 -2l-2 0M482 360l0 -2l-2 -2M210 362l5 5M352 362l5 -5M322 365l0 2l2 2l-2 2M402 365l-2 -2l-2 2M198 370l-2 -2l0 -2l-5 -5l-2 2l-2 -2M372 370l-5 -5l0 -2M502 372l2 -2l-2 -2M415 378l-5 0M315 380l10 10M280 382l-2 2M450 382l2 0M160 385l2 -2l2 0l5 -5l0 -2l2 -2M340 388l-2 2l-2 0M432 392l2 0M238 395l0 2l2 2l0 2l8 8M250 400l-2 2M450 400l-5 0l-2 2M490 400l2 -2l0 -2l2 -2l0 -2M198 408l0 2M220 408l-2 -2M365 408l0 -5l8 -8l0 -2M410 408l0 -2l-5 -5M180 410l0 2M400 410l0 -2l-2 -2l2 -2l-2 -2l0 -5M455 412l-2 -2l-2 0l-2 2M305 415l2 -2l2 0M350 415l-2 -2l-2 0l-2 2l-2 0l-2 -2l2 -2l-5 -5M238 418l-2 -2M140 420l-2 2M172 425l5 -5l0 -2M198 425l2 -2l0 -2l2 -2M232 425l-2 -2l0 -2l5 -5M345 425l0 5l2 2l0 2M412 425l2 2M252 430l0 -2l-2 -2M310 430l2 0M182 432l5 -5M388 432l2 2M432 432l-2 0M475 432l0 -2M162 435l0 2M312 438l2 -2M335 445l-5 5l-2 0l-2 -2M138 452l-5 5l-2 0M478 452l-8 -8M225 455l2 -2l-2 -2l0 -5M88 458l5 5l0 2l-2 2M382 462l2 2l0 2M375 465l2 2l2 0M452 465l-2 -2l-5 0l-2 -2M270 468l-5 -5l0 -2M100 470l-5 5l0 2M252 470l2 -2l5 0l2 -2M242 472l0 2l2 2l2 -2l2 0M112 475l0 2l2 2l0 2l2 2l2 -2l2 2M135 478l2 -2M240 478l2 0M122 482l2 2M185 482l-2 -2M392 482l2 -2M215 485l5 -5M460 485l2 -2l0 -2l-2 -2l-2 0M462 485l0 -2M168 488l-2 2l0 2M372 490l-5 0l-2 -2l-2 0M445 490l-2 -2l-2 0l-2 2l-2 0l-2 2l-2 0l-2 2M365 492l0 -2M278 495l0 -2l-5 -5l2 -2M222 498l5 0M58 502l0 2l-2 2l5 5l2 0M290 502l0 -2M428 502l-2 -2M115 505l-2 -2l5 -5l2 0M188 505l0 2M325 505l-8 8l0 2M88 510l2 -2l2 0l2 2l2 0M260 512l2 2l2 -2M108 515l0 -5M288 520l-2 2l-5 -5l-2 0M315 525l-15 -15M62 528l2 2l2 -2M332 528l2 -2M245 530l2 -2M340 530l2 0M342 535l2 -2l2 0M162 540l-5 0M105 550l5 -5M118 550l-2 0l-5 -5M208 550l2 -2l-2 -2l2 -2l-2 -2l-2 0M308 552l-2 0l-5 -5l-2 0M262 555l2 2l2 -2l5 0M195 568l5 -5l0 -10M135 580l2 -2l0 -2l2 -2M162 580l-2 2l-5 -5l0 -2l-2 -2M168 582l-2 2M180 590l-2 0l-2 2l0 2l-5 5l-2 0l-2 -2M168 595l-2 2M630 12l-2 0l-2 2l0 8l-2 2M610 15l2 2M440 20l2 0l12 12l2 0l2 -2M592 20l5 5l2 -2l2 2l2 0l2 2M558 30l2 0l2 2l2 0l2 2l5 0M635 30l-2 0l-2 2M555 38l5 0l2 2l2 0l2 -2l8 8l2 0M438 40l2 2l2 -2l5 5M442 45l2 -2M742 48l-2 0l-2 2l-2 0M550 50l0 5l10 10M600 50l2 2l-2 2l5 5l-2 2M702 50l-2 0M728 50l-2 2l-2 -2l-2 2M450 52l5 -5l10 0M485 52l0 2l2 2M495 55l5 0M530 58l2 0l2 -2l2 2l2 -2l5 5M550 58l2 0M562 58l10 10M595 58l2 0M702 58l-2 -2M740 58l0 -2M462 60l5 5M658 60l2 2l-2 2l0 2l-5 5M640 62l-2 0l-2 -2l-2 0l-2 -2l-2 0M530 65l5 5l5 -5M612 68l-2 2l0 2M692 68l5 -5l0 -2l2 -2l0 -2M740 68l-5 0M432 70l8 8M652 70l0 2M720 70l-2 -2M428 75l0 2l8 8M702 75l2 -2l8 0M405 78l8 8l2 0l2 2M470 80l8 8l0 2M402 82l-2 2l0 2l2 2l0 2M422 82l5 5l2 0l2 2M500 82l2 2l2 -2l2 0l2 -2l2 2l2 0M562 82l0 -2l2 -2l2 0l2 2l2 0l2 2l2 0l2 2M655 82l-2 0l-2 -2l-2 0l-2 -2l0 -2M702 82l10 -10M708 82l5 0M622 85l-2 2M492 88l10 0l8 8M592 90l2 -2M360 92l8 0l5 5M648 92l-2 0l-2 2l-2 -2l-2 0M762 92l-2 -2l-8 0M412 95l-2 2l0 5M605 95l12 12M350 98l-2 2l0 2l-5 5l0 5l2 2M450 98l0 2M478 100l2 0l2 2l2 0M560 100l2 0l8 8l2 0M695 100l8 -8M602 105l5 5M478 108l2 2l-2 2l-2 0l-2 2l0 2l-2 2M368 110l-2 2M752 110l2 -2l-8 -8M540 112l5 5l2 -2l2 0l2 2l2 0M448 115l-2 2l0 5l-2 2l5 5l0 2M458 115l2 0l2 2l0 2l8 8l-2 2l2 2M490 115l2 -2l2 0M638 115l8 8M585 118l0 -2l2 -2l0 -5l-5 -5M682 118l-5 5l0 8M738 118l2 -2l-5 -5l0 -2M312 120l2 2l0 5M355 120l2 2l2 0M495 120l2 0l2 -2M305 122l5 5l5 0M370 122l2 2l-5 5M635 122l-5 5M748 122l2 -2l0 -2l-2 -2l-5 0l-8 -8M400 125l-2 2M405 125l-2 0M415 128l2 2l2 0l5 5M562 130l2 -2l5 0M595 130l-2 0l-5 5M362 132l2 0l2 2l0 5l2 2M635 135l0 -2M295 138l0 2l-12 12M512 138l-2 -2l0 -2l2 -2M410 140l0 2l2 2l0 5M560 140l2 0l2 -2l0 -5l5 -5M390 142l0 2l5 5M548 142l2 2l0 5l-2 2M552 142l-2 2M492 145l0 2M672 145l-5 5l-2 0l-2 2l-2 -2l-2 2l-2 -2l-2 2M318 148l8 8M545 148l0 2l2 2M632 148l2 0l2 2M270 150l5 5M418 150l-5 0M440 150l2 2l2 0l2 2l2 0M528 150l2 2l0 5M360 152l2 2l-2 2M412 155l-8 8M170 162l2 2l2 -2l2 2l2 0l8 8l2 -2l2 0M392 162l8 8M468 162l0 5l5 5l-2 2M565 162l2 2l5 0M282 165l-5 5M518 165l0 2l-2 2l2 2l0 2M360 168l2 -2M340 170l0 2l2 2l2 0l8 8M508 170l2 2l2 0l2 2l2 0M568 170l2 0M295 172l2 2l0 2l2 2l0 2M598 172l2 2l2 0M635 172l0 -5l-2 -2M435 175l2 2l2 -2l5 5l2 -2M580 175l2 0l2 -2l2 2M615 175l-2 -2M642 178l0 -2l-8 -8M282 180l-5 5M175 182l8 8l2 0M332 182l2 0l2 -2M272 185l2 2M572 185l-5 5M640 185l-5 0l-2 2M205 188l2 -2l5 0l2 2l5 0M555 188l-2 -2l-2 0M370 190l2 2l0 2l2 2M600 190l-2 -2l0 -2M292 192l0 5M330 192l-2 2l2 2l-8 8M315 195l0 2M520 195l0 5l2 2M615 195l-2 0l-2 -2l-2 0M452 198l2 2l0 2l10 10M465 198l2 -2l8 8l0 2l5 5M528 198l5 -5M540 198l2 2l0 2M580 198l-2 2l-2 -2l0 -2M590 200l-8 8M608 202l-2 -2l0 -2M332 205l0 2l2 2l0 2l2 2M352 205l2 2M650 205l-5 -5M518 208l0 -2l2 -2l2 0M590 208l-2 2M632 210l-2 0l-5 5l-5 -5l-2 0l-2 2M302 212l-8 8M428 212l2 2M445 212l2 2l2 0l2 -2l2 2l2 0M322 215l-2 0l-2 2l-2 0l-2 -2M528 215l2 2l-5 5l5 5M532 215l0 2l2 2M560 215l-10 10l-2 0M628 215l-2 2l-2 -2l-2 2l-2 0l-2 2l-2 0l-2 2M522 218l2 2l0 2M220 220l2 2M468 220l2 2l0 2M502 220l-5 5M492 222l2 2l2 0M620 222l-2 2M232 225l0 5l-5 5l0 2M328 225l0 2l2 2l0 2l-2 2l0 2l2 2M665 225l-2 2l-2 0M240 228l2 2l2 0M348 228l0 2l2 2l0 2M315 230l-5 5l0 2M345 230l2 0M472 230l2 2l0 2l2 2l-5 5M648 230l0 -2l-8 -8l0 -2M382 232l-2 2l-2 0M420 232l2 2l2 0M612 232l-2 2M262 238l2 0l2 -2l8 0M362 238l2 -2l2 2l0 2M565 238l-5 -5M208 240l2 -2l10 0l2 2l2 0M328 240l2 0M590 240l-2 0M385 242l-5 -5M420 242l2 0l2 2M268 245l0 2l8 8M310 245l0 2M335 245l2 0M482 245l-2 2l0 2M188 248l8 -8M325 248l2 2l2 0l2 2l5 0l5 -5M545 248l2 0l2 2l2 -2M212 252l2 -2l2 0l2 2M432 252l-2 2M475 252l0 2M488 255l-5 0M590 255l0 -2M270 258l2 -2M328 258l2 2l5 0M265 262l2 0l8 -8M310 262l2 2l2 0M548 262l5 5l0 2M558 262l-5 5M565 262l0 -5l-5 -5l0 -2M482 265l-5 -5M520 265l-5 5M190 268l2 -2M272 268l2 0l2 -2l2 0l2 -2M522 268l-5 0M265 270l2 2M482 270l-10 -10M345 272l2 -2l0 -2M495 275l2 2M542 275l0 2l-2 2M485 278l2 -2l5 0l2 2l2 0M282 280l10 10l2 0M350 280l0 2l2 2M268 282l2 2l2 0M322 282l2 0M422 285l-2 2M478 285l-2 2l2 2M232 288l2 0l2 -2l2 0M342 288l2 -2l2 0l2 2l2 -2M372 288l-2 -2M418 290l2 -2M440 292l5 5M462 292l2 2l2 0M498 292l-2 -2M552 292l2 -2l0 -2M582 292l-2 0M195 298l5 0l2 -2l2 2M215 298l5 5l5 -5M462 298l2 -2M555 298l0 -2l2 -2l0 -2l-2 -2M288 300l-2 2M390 300l-5 0l-2 -2l-2 2M272 302l2 2l2 0l2 -2l2 0l5 5M415 305l0 -2M385 310l2 -2l0 -2l-5 -5l-2 0M320 315l-2 -2l0 -2M348 315l-5 -5M392 315l2 -2M448 315l2 2l5 0l2 2M528 315l0 -2M218 318l-2 -2M458 318l2 2M538 318l-2 -2M548 318l-2 0l-2 -2l-8 0M200 320l5 -5l2 2l2 0M230 320l5 -5M235 322l-2 -2l2 -2l2 0M422 322l-2 -2l-5 0M392 325l2 -2l0 -2M260 328l2 -2l5 0M430 328l2 0M248 330l5 -5l0 -2l2 -2M372 330l-2 2l-2 0l-2 -2l-5 0l-2 -2l0 -2M305 332l2 -2M405 332l2 0M442 332l2 0M255 335l5 5M295 335l0 -2M310 335l0 -2M212 338l2 -2l2 2M338 338l2 -2l0 -2M495 338l2 0M520 338l-2 2l-2 0M160 340l5 5l-5 5M392 340l-2 -2l-5 0l-5 5l-2 0M480 340l-2 0l-2 2l-2 -2l-2 0M422 342l2 -2l5 5M180 345l-2 2M282 345l0 -2l2 -2l2 0M225 348l5 5l2 0l2 2l5 -5M270 348l0 -2l2 -2M338 348l-2 -2M185 350l5 5M300 350l0 -2l2 -2l0 -2M362 350l0 -2l-2 -2M522 350l-2 -2l0 -2l-5 -5M190 352l0 2M350 352l8 -8l0 -2M242 355l5 5M262 355l0 -2l2 -2M178 358l0 2M182 365l-2 0M258 365l-2 2l0 2l-2 2l0 5M472 365l0 -2l5 -5M490 365l2 -2l-8 -8M510 365l-2 0l-2 2l-2 -2M208 368l2 0l2 -2M278 368l2 2l-2 2l-5 0M342 368l-5 -5M360 368l0 -2l2 -2l0 -2M430 368l2 2l5 -5l0 -10M448 368l-2 -2l0 -5M225 370l-2 2l2 2l0 5M310 372l-5 5l-15 0M238 378l2 2l2 -2l5 0l2 -2M338 380l0 2M155 382l2 -2l2 0l8 -8l2 0M248 382l5 5M502 385l2 -2l0 -2l2 -2l-2 -2l2 -2l-2 -2M432 388l0 2l2 2M352 390l5 -5l0 -2l-5 -5M358 390l5 -5l0 -2l2 -2l5 0l2 -2l2 0l2 -2M308 392l5 0l2 2l2 0l2 -2l2 0M418 392l0 -2l-2 -2l-2 0l-2 -2l-2 0l-5 -5l2 -2l-2 -2M172 395l5 0l2 2l8 0l2 2M345 395l-2 2M412 395l-2 -2l0 -2l-2 -2l-8 0M212 398l2 2M265 398l2 0l2 -2l0 -2M328 398l2 2M318 400l2 2l0 2l-2 2l0 2l-2 2M422 400l2 -2l5 0l5 -5M470 400l0 8l2 2M480 400l-8 8l0 2M145 402l2 0l5 -5M230 402l2 2l0 2l5 5M260 405l8 -8M462 405l0 2l2 2l0 2l-5 5M412 408l-2 -2M432 408l-2 -2l0 -2l8 -8M455 408l-2 2M298 410l-2 -2l-2 0M312 410l0 2M355 410l-2 -2l-5 0l-2 -2l-2 0M152 415l2 0M202 415l0 2M230 415l5 0M308 418l0 -2l2 -2M398 420l-2 2l-5 0l-2 -2l-2 2l-2 -2l-2 0M222 422l-2 2l0 2M495 425l-8 -8M180 430l5 -5l2 2M352 430l0 2M380 430l2 -2l0 -2l-2 -2l-2 0M300 432l-2 2l-2 0l-2 -2M242 435l2 0l8 -8M358 435l-2 0l-2 -2M115 440l-2 2M158 440l2 2l0 2M355 440l-2 0l-5 -5M198 442l5 5l2 0M300 450l-2 -2M98 452l0 2l2 2l5 0l8 -8l2 0M318 452l0 5M420 452l2 -2l0 -2l5 -5M455 452l2 -2M422 455l0 -2l2 -2l-2 -2M460 455l-2 -2l0 -2M92 458l2 2l-2 2M445 458l-2 2M145 460l2 2l0 5l-2 2l0 2M472 460l-2 -2l-5 0l-8 -8M105 462l2 2l5 -5l2 2l2 -2l2 0M415 462l2 2l0 2l-5 5l-2 0M138 465l-2 2l0 2M165 465l-2 -2M448 465l-2 -2M192 468l2 0l2 2l2 -2M210 468l-2 0M322 468l2 -2l0 -2l-5 -5l-2 0M362 468l-5 -5M410 470l0 2M180 475l2 2l-2 2l0 2M155 478l-5 -5M192 478l-2 -2M262 478l0 -2M200 480l8 -8M418 480l2 2l-2 2l0 2l2 2l0 2M152 482l-2 2M292 482l0 -2l5 -5l2 0M338 482l2 -2M440 482l-2 0M408 485l2 -2M338 488l5 -5M82 490l2 2l5 0M88 490l2 2M220 490l-2 -2l2 -2l-2 -2M60 492l2 2l5 -5l5 5M270 495l0 -2l2 -2l0 -2M358 498l-2 -2l-5 0l-5 -5l-2 2l-2 -2M128 500l0 -2M420 500l2 -2l2 0M40 502l8 8M48 502l0 2l10 10M70 508l2 0l2 2M135 508l2 -2l5 5l5 0M208 508l-2 -2l-2 0l-2 -2M242 508l2 -2l0 -2l2 -2M312 508l-8 -8l5 -5l0 -2M140 510l2 0M325 510l-2 0l-5 5M335 510l2 -2l2 0l8 -8M348 512l2 0M225 515l2 -2l-2 -2l0 -2l-2 -2M125 518l0 2M240 518l8 8l0 2M322 518l0 -2l-2 -2M58 520l2 2M218 520l-8 0l-2 -2l-2 0l-2 -2M80 522l5 -5l2 0M180 522l8 -8l0 -2M112 525l0 5M230 525l-2 0l-2 2l-2 -2l-2 2M308 525l0 -2l-5 -5l0 -2l-2 -2l0 -2M370 528l2 -2l0 -8l-2 -2M358 530l-5 -5M292 532l0 2l-2 2M302 532l-2 -2l-2 0l-5 5M60 535l5 -5M242 535l2 -2M92 538l5 0l2 -2l2 0l2 -2l2 0M188 538l2 0l2 -2l2 2l2 0l2 -2M230 538l-2 -2M362 540l-5 5l-2 -2l-2 2l-2 0l-2 2M152 545l-2 -2l0 -2l-5 -5M240 545l-10 -10l-2 0M270 545l5 5l2 -2M125 550l2 -2l0 -5l5 -5M268 552l2 2M155 555l2 2M190 555l5 0M330 555l-5 -5M328 558l-2 -2l0 -2M270 560l0 -2M288 560l5 -5M180 562l-2 0M132 570l5 5M172 575l-2 -2l-2 0l-8 -8M140 582l2 -2l0 -5M622 10l0 2M598 15l2 2l2 -2l5 5l2 0l2 -2M635 20l0 2l-5 5l2 2M428 25l0 2l8 8l2 0l2 2M442 28l2 2l0 2l2 2l2 0l2 2l2 0M435 30l2 2l0 2M590 30l0 5M572 32l0 2M602 38l2 0l5 -5M560 42l2 2l2 0l5 5l-2 2l5 5M475 50l0 -2l2 -2M610 50l0 2l8 8M635 50l-2 2M765 50l-2 -2l-5 5M458 52l2 0l5 -5M720 55l-2 -2M582 58l0 5l5 5M748 58l-2 2M765 58l2 -2l-5 -5l-2 0M662 60l-2 2M460 65l5 0M535 65l2 2M542 65l0 -2M478 68l5 5l2 -2l2 0M555 68l2 -2M595 68l5 5l-2 2l0 2M762 68l-2 2l-5 -5l-2 0M618 70l0 2l-2 2l2 2l0 2M708 70l2 2M772 70l-8 0l-2 2l-2 0l-2 -2l-2 0M502 72l5 -5M550 72l2 2M735 72l2 -2l-2 -2M742 72l-5 -5M762 75l-2 -2M578 78l5 5M410 80l5 5M552 80l0 -2l2 -2M675 80l2 0M378 82l2 2M478 82l2 2l-2 2M612 82l2 0l2 -2M665 82l-2 -2l2 -2l-5 -5l-2 2l-2 0l-2 -2M748 82l-5 -5l0 -2l-5 -5M770 82l-2 2l-2 -2l-2 0l-5 -5M398 85l2 2M452 85l-5 5M538 85l2 2l0 8M688 88l5 -5l-2 -2M375 90l0 2l2 2l0 5M525 90l2 0l2 2l2 0l2 2l5 0M575 90l2 -2M660 90l-2 0l-5 5l2 2M550 92l-5 5l0 2M670 92l2 2l-2 2l0 2M690 92l2 -2l0 -2l-2 -2M730 92l5 -5M438 95l-5 5l2 2l-8 8l0 5M528 95l2 2l2 0l5 5l2 0M518 98l0 2l-2 2l8 8M490 100l0 2l5 5l-2 2M570 100l2 0l2 -2l5 5l2 0M402 102l5 5M418 102l-2 2l0 8l-2 2M468 102l-2 2l0 8l2 2l0 2M502 102l5 5l2 0M525 102l2 2l0 2M592 102l0 -2l2 -2l5 0M685 102l-5 5l2 2l2 0l2 2l2 0l2 -2M442 105l0 5M578 105l2 -2M720 105l0 -2M742 105l-5 -5M755 105l-2 0M468 110l-2 2M520 110l2 0M545 110l5 -5M615 110l2 -2M502 112l2 2M528 112l2 -2M670 115l-2 2l-2 0M478 118l-5 5l2 2l0 2M538 118l5 5M410 120l-2 0M505 120l2 -2M578 122l0 -2l-5 -5M385 125l2 2l-2 2M698 125l-2 0l-5 5l-2 0M308 128l0 2l12 12M670 128l5 5M680 128l-2 2M332 130l0 2l2 2l2 0l2 2M445 130l2 2M588 130l2 2M665 130l5 5l-8 8M372 132l0 2M440 132l2 0l2 2M545 132l-2 -2l0 -2l5 -5l2 0M618 132l-2 -2M625 132l5 -5M360 135l5 5l2 0M580 135l0 2M618 135l-2 -2M642 135l-2 0l-2 -2M692 135l-2 2M450 140l-2 2l5 5M305 142l5 5M348 142l2 2l0 2l5 5M382 145l-2 2l2 2l0 2M418 145l0 2l-2 2M240 148l0 2l-2 2l0 2l-2 2M510 148l2 2l8 0l2 2l0 2M568 148l2 -2l5 0M608 148l2 0l2 -2l2 0l8 8M690 148l0 -2l-5 -5M212 150l2 0l2 2l2 0l5 5l2 0l2 2l2 0M228 150l5 5M292 150l-5 5l-2 -2l-2 0M572 150l2 2l5 0M615 150l5 0M260 152l0 5l2 2l-2 2l0 2l-2 2M348 152l5 5l2 0l8 8M495 152l-5 5l-2 0l-2 2M562 152l2 2l0 2l8 8M198 155l5 5M470 155l2 2M520 155l2 0M250 158l5 5M188 160l2 0l2 -2M250 160l2 0M348 160l0 2l-2 2M522 160l2 -2M312 162l2 0M410 162l-2 2l-2 0M500 162l2 2M530 162l2 2l2 -2M638 162l-2 0M188 165l5 5M202 165l2 -2M242 165l0 2M615 165l-2 2l0 2l-2 2M305 170l-2 2M518 170l0 2M270 172l-2 2l0 2M358 175l0 2l-2 2l2 2l0 2l-2 2M478 175l0 5M490 175l2 2M598 175l2 0M660 175l-2 0l-2 2l-5 -5l-2 0M210 178l2 2M218 178l2 -2l2 2l2 0M405 178l-5 5l0 5l2 2l-5 5M658 178l-2 0M195 180l2 2l2 0l5 -5M488 180l2 2l2 0M650 180l-5 -5M292 182l2 2l2 0M428 182l0 5l2 2l-2 2l2 2l-2 2l0 2M258 185l5 -5M375 185l2 -2l2 2l2 0l5 5l0 5l2 2l-2 2M395 185l-2 2M498 185l0 2M348 190l2 2M458 190l5 -5l2 2l2 0l5 5l2 0M492 190l5 5M565 190l2 0M622 190l0 -2l2 -2M465 192l2 2M505 192l-2 -2l-5 5M550 192l-2 2l-2 -2l-2 2M180 195l2 2l2 0l5 5l-2 2l0 2M248 195l5 0M378 195l-2 2M320 198l-2 0M562 198l2 -2M225 200l2 2l2 -2l5 5l2 0l2 2l2 0M398 200l2 2M515 200l2 2l2 0M322 202l0 2M328 202l-2 2l-2 0M445 202l2 2l2 0l2 2l0 2l5 5M480 202l0 2l2 2l-2 2M485 202l5 -5M502 202l-2 2l-2 0M218 205l0 2l-2 2M302 205l5 5M318 205l-8 8M362 205l8 8l0 2M392 205l-12 12M558 205l-5 5l-2 0l-2 -2M620 205l-5 5l0 2M362 208l2 0M368 208l0 2M570 208l0 -5M602 208l-2 -2l5 -5M348 210l0 2l2 2M460 210l2 2M468 210l2 -2l2 0M195 212l-5 5M205 212l2 2M250 212l2 -2M295 212l-2 2M508 212l-2 -2M578 215l0 -2l2 -2l0 -2l-2 -2M655 215l-2 -2M288 218l0 2l-2 2M335 218l2 -2M365 218l5 0M448 218l2 -2M628 218l-2 0M305 220l2 2M210 222l5 5M438 222l-2 0l-5 5M510 222l5 5M168 225l8 0l2 -2l2 0M192 225l2 -2M208 225l2 2M390 225l2 0M395 225l0 2M652 225l-2 -2l0 -2l-8 -8M178 228l8 -8M498 228l2 0M580 228l-2 0l-2 -2l-2 2l-2 0l-2 -2M592 228l5 -5M640 228l2 -2l0 -2M440 230l-8 8l-5 0M630 230l-2 0l-2 -2l-2 2M338 235l0 2l-2 2l2 2l2 0l5 5M370 235l-2 2M550 235l0 -2M600 235l0 -2l-5 -5l2 -2l0 -2M355 238l-2 -2l-2 0M635 238l-8 0M655 238l2 0l2 -2l0 -2l2 -2l-2 -2M175 240l2 2l5 0l2 -2l2 0M248 240l2 2l0 2l2 2l2 0l2 2M420 240l2 2M455 240l2 -2l2 2l2 0M495 240l0 2M572 240l-10 -10M342 242l5 5M535 242l-2 -2l0 -5M210 245l2 2l2 0l2 2M220 245l2 0l2 -2l2 0M528 245l0 -5l5 -5M258 248l2 2M262 248l2 2M608 248l2 2M620 248l-2 2l-2 -2l0 -2M198 250l5 5l0 5l2 2l0 2M275 250l-2 2M425 250l2 2M288 252l5 5M298 252l5 5l0 2l-5 5M408 252l-2 0l-5 -5M522 252l-8 0M205 255l-2 2M415 255l2 0l2 2l2 0M228 258l2 2l2 0l5 5M402 258l-2 0l-2 -2l-2 0M415 258l2 -2M528 258l-2 0l-5 -5M355 260l2 -2l0 -2M452 260l0 2M505 260l-2 2M622 260l-2 2l-2 0l-2 -2M275 262l5 -5M428 265l2 -2l2 0M498 265l2 -2l5 5M578 265l0 -8l-2 -2M605 265l2 0M222 268l2 0l5 -5l2 2l5 0M278 268l2 -2M282 268l-2 -2M470 268l-2 2l0 2l-2 2M365 270l5 0M555 270l-2 2M230 272l5 0l12 12M242 272l2 0M305 272l2 0M510 272l-2 0M260 275l2 0M440 275l2 -2l2 0l5 -5l2 0l2 2M615 275l5 -5l0 -2l2 -2l-2 -2M472 278l-2 2l-2 0l-2 2M605 278l5 -5l-5 -5l2 -2M208 280l2 2l2 0M425 280l2 -2l2 2l2 -2l2 2l0 2l-2 2l2 2M520 280l2 -2M578 280l5 0l2 2M260 282l2 2l2 0l2 2l2 0l5 5l2 0M460 282l2 2M222 285l0 2l-2 2l0 2M398 285l5 5l2 0l5 -5M580 285l2 2l0 2M198 288l2 0l2 2l2 -2M318 288l0 2M505 288l-2 -2M602 288l-2 -2l-2 0l-2 -2l-2 0l-2 2l-2 0M392 290l-2 2l-2 0l-2 -2l-2 0M592 290l-5 -5M195 292l5 5M340 292l5 5l2 -2M322 295l8 8M430 295l0 -2M485 295l-2 -2l-2 0M338 298l2 2M368 298l0 -8M465 298l2 -2M505 298l5 -5M518 298l-2 0M208 300l-2 -2M278 300l2 2M575 300l-2 -2l-2 2M315 302l2 0l2 2l2 0M185 305l2 -2l2 2M270 305l0 2M532 305l2 -2l-2 -2l0 -2M370 308l-2 0M182 310l2 0M260 310l2 2l0 5M312 310l2 2M392 310l2 2M430 310l0 -2l-2 -2l0 -2M298 312l2 2M495 312l2 -2l-2 -2l0 -2l-2 -2l0 -5M342 315l0 -2M258 318l2 2l2 0M408 318l0 -2M465 318l0 -5M212 320l0 -2M365 320l-2 0l-5 5M380 320l5 5l5 0l5 -5M462 320l-2 0M520 320l2 -2l-5 -5l5 -5M452 322l2 0l2 -2M328 325l-2 -2M402 325l2 2l5 0M478 325l-10 -10M198 328l2 0l10 -10M492 328l-2 -2l-2 0l-2 2M225 330l5 5l-2 2l0 5M278 330l-2 2M342 330l-2 -2M450 330l2 2M462 330l-2 -2l-2 0M525 330l5 5l5 -5M170 332l-2 2l0 2l2 2l0 2M290 332l2 2M315 332l-2 -2l-2 2M380 335l-10 10l-2 0M192 338l2 2l2 0M220 338l0 2M440 338l2 0l2 2l2 -2l2 2M410 340l-2 -2l2 -2l-2 -2M502 340l0 -2M155 345l5 5M262 345l5 0M392 345l-5 0l-2 2l-2 0l-2 2l-5 -5M460 345l-5 -5M248 348l-2 2l0 2M325 348l2 -2l0 -2l2 -2l-2 -2M452 348l2 -2l0 -2M470 348l2 -2M348 350l2 -2l0 -2l-2 -2l0 -2l-5 -5M405 350l-5 -5l5 -5l0 -2l2 -2l0 -2M198 352l-2 0l-2 2M258 352l2 2l2 -2M288 352l2 2l0 2l-2 2l0 2M312 352l2 -2l0 -2l5 -5M320 352l-5 -5M338 352l-2 0M512 352l-2 2M535 352l5 -5M445 355l-2 -2l2 -2l0 -2l-2 -2M458 355l2 2M550 355l-2 -2M168 358l2 2l2 0l2 2l0 2l2 2M432 358l5 -5M275 360l5 5l5 0M470 360l0 -2l-2 -2l-2 2l-2 -2l-2 2M380 362l0 -2M318 365l0 2l5 5M330 365l-2 -2l-5 5M418 365l-2 -2l0 -2M455 365l0 -2l5 -5M252 368l2 2M268 370l2 0l2 2M268 375l2 0l2 -2M348 375l-2 0l-8 8M445 375l-8 -8l8 -8M478 378l0 -5l2 -2l0 -2M200 380l-2 2l5 5M230 380l-5 0M262 380l2 2l-2 2M210 382l-2 2l-2 -2l-2 2l0 2M302 382l-5 0l-5 5l-2 -2l-2 0M312 385l2 -2l2 0M392 385l-2 -2l2 -2M370 388l15 -15l0 -2M152 390l18 -18M182 390l5 0M242 390l0 2l2 2l0 5l2 2M472 390l0 -2l-2 -2l-2 0l-5 -5M492 390l2 -2M192 392l-2 2M255 392l2 -2M298 392l-2 2l0 5l2 2l-5 5M392 392l-5 -5l2 -2l0 -2M235 395l2 2M368 395l2 -2l2 0M458 395l0 -2l-2 -2l-5 0M278 398l-2 2M285 398l-2 2M158 400l0 -2M372 400l2 -2l0 -2l2 -2M395 400l2 -2M472 400l-2 2M188 402l2 0M290 402l-2 2M435 402l5 -5l2 2M135 405l0 2l-2 2l0 2l-2 2l8 8M150 405l0 -5M308 405l-2 2l5 5M348 405l-2 0M375 405l10 -10M380 405l0 -5M240 408l2 2M172 410l2 0M210 410l2 0M390 410l-5 -5l0 -2l2 -2l-2 -2l0 -2M480 410l-2 0l-2 2M488 410l-5 5M165 412l0 2l2 2M245 412l2 -2M428 412l-5 5l0 2M135 415l-2 2M272 418l0 -2l2 -2l0 -2l-5 -5l0 -2l2 -2M292 418l-2 0l-5 -5M360 418l-2 2l0 2l2 2M375 418l-2 0l-5 5l0 2M288 420l-2 -2l2 -2M335 420l-2 0l-2 2l-2 -2l0 -2l-2 -2l-2 2M480 420l-2 2l-2 -2l-5 5M145 422l0 2l2 2l0 5l-2 2M160 425l-2 2l2 2l-2 2l5 5M182 425l2 0M208 425l-2 -2l2 -2M248 425l2 0M155 428l-2 2l2 2l2 0M202 428l2 -2l0 -2M298 428l-5 5M320 428l-5 5M465 428l-8 -8M268 430l-10 -10M220 432l0 -2M120 435l5 5l-2 2l0 2l2 2l0 2M485 435l-5 -5l-5 0M208 438l5 0M258 438l2 0l2 2l0 2M278 438l-2 2l-5 0l-2 2l-2 0M448 438l-5 -5l-2 0M135 440l2 2l2 -2l8 0M325 440l0 2l-2 2l2 2M465 440l-2 2M482 440l0 -2M100 445l0 -2l5 -5l2 0l5 5M145 445l0 -2l2 -2M320 445l2 0M380 445l0 -2M402 445l2 2l0 2l5 5M398 448l-2 2l5 5l2 0l2 -2l2 2M130 450l0 2l-2 2M332 450l-2 0M350 450l-2 -2l2 -2l-8 -8M435 450l2 2l0 2l-2 2l0 2M148 452l5 -5l2 0M190 452l2 2M245 452l0 -2l2 -2M348 452l-5 -5l0 -10M372 452l-2 -2l0 -2M445 452l-5 0l-2 2M488 455l-2 -2l-2 0l-5 -5l-2 0M298 458l-2 0l-2 2l0 5M215 460l-2 -2M250 460l2 2l8 -8l2 0l2 -2l-2 -2M368 460l-2 2l-2 -2l-2 0l-2 2M475 460l0 -2l-2 -2l0 -2l2 -2M398 462l-2 0l-2 2l0 10M180 468l-5 5l2 2l-2 2l2 2M88 470l2 2M395 470l-2 2M122 472l0 2l2 2l2 -2l2 2M185 475l-2 2M322 475l-2 0M338 475l2 0l2 -2M378 475l-2 -2l5 -5M390 475l2 0M82 478l2 -2M232 480l8 8M380 485l-5 -5l-2 2l-2 0l-5 -5M108 488l0 2M170 488l-5 5M210 488l-8 -8l0 -2M355 488l0 -2M92 490l0 2M230 490l2 0l2 2M250 490l5 -5l2 0l2 2l8 0M115 492l2 2M240 492l2 -2l0 -2M325 492l8 0l2 2M85 498l5 -5M148 498l-2 -2M155 498l2 2l2 0l2 2l0 2M340 498l-2 -2l0 -2M348 498l-2 0M65 500l5 -5l2 0M212 500l-2 2l-2 0l-2 -2l-2 0l-2 2M295 500l-5 0M232 502l0 -5l10 -10M190 505l-2 2M125 508l-8 -8l2 -2M250 508l0 -2l2 -2M172 510l0 -2l5 -5M272 510l-2 -2l-2 0M275 510l-2 -2l-2 0M160 512l0 -2M185 515l2 -2M190 515l-2 -2M285 515l-2 2l-2 0M292 515l-2 -2l2 -2l0 -2l2 -2M98 518l5 -5l0 -2l2 -2M115 518l-8 -8M50 520l2 2M248 520l-2 2M260 520l2 0M350 520l2 -2M185 522l0 -5M335 522l2 -2M95 525l2 -2l10 10M105 525l5 5l2 0M130 525l2 2M138 525l2 2l0 2M195 525l5 -5M358 525l-2 -2l0 -2M70 528l0 -2M162 528l-2 2M285 528l-2 2l-5 -5l-2 0l-2 -2l-2 2l-2 -2l-2 2M178 532l-2 0M220 532l0 -2M138 535l2 -2l2 0M232 535l-2 -2M325 538l2 0M82 540l-2 -2l0 -2l2 -2M195 540l2 -2M258 540l-2 -2l2 -2l-2 -2l0 -2M80 545l2 -2l-2 -2l0 -2M258 545l-5 -5l2 -2M95 548l2 0l12 -12l2 2l2 0M170 548l2 2l0 2l-5 5l0 2l-5 5M175 548l-2 2M320 548l8 -8l0 -2M280 550l-2 -2M292 550l-2 0M348 550l0 -2M128 558l5 5l2 0l5 5M252 558l-2 -2l0 -8l-5 -5l0 -2M260 565l2 0M150 568l-2 2M328 568l-2 0l-5 -5l0 -5M312 570l-2 0l-8 -8l-2 0M272 575l5 -5l0 -2l-5 -5l2 -2M280 575l5 -5l0 -2l-5 -5l-2 0M160 590l-2 -2l-2 2l-2 -2l-2 2M142 600l2 -2M155 600l-8 -8"/><path id="v2" fill="none" stroke-linecap="round" stroke-linejoin="round" d="M245 480l5 -5l5 5l8 -8M242 368l5 5M642 72l-2 2l-2 0l-2 -2l-2 0l-2 2l-2 0M665 118l-5 -5l-2 2l-2 -2l0 -5M608 235l-5 -5l0 -8M190 432l-2 -2l0 -2l8 -8l-2 -2M448 45l15 -15l5 5l2 0l2 2l2 -2l2 2l0 5l2 2M512 130l-2 -2l5 -5l0 -2l10 -10M482 370l-8 -8l2 -2l0 -2l2 -2l0 -2M318 475l-2 -2l-2 0l-2 -2l5 -5M630 55l-5 5l2 2l-5 5M488 70l2 -2l2 0l2 -2l8 0l2 2l2 0l2 2l5 0M730 130l-2 -2l-5 0l-10 -10l-2 0l-2 -2l-2 2l-2 0l-2 -2l-5 5M415 175l0 12l2 2l-2 2l2 2l-2 2l2 2l0 5l2 2l-5 5M215 210l-5 5l2 2l0 5l2 2l0 2M660 195l0 -5l-5 -5l0 -2l-2 -2l0 -2l-5 -5l-2 2l-2 -2l0 -2l-8 -8M610 250l5 -5l-8 -8l0 -2M345 262l5 -5l2 0l2 -2M302 298l10 10l2 0l2 2M568 310l-2 -2l0 -2l5 -5l-8 -8M190 315l5 -5l0 -5l2 -2l2 0l12 -12l2 2l5 0M162 358l8 8l0 2l12 12M162 368l2 2l2 0l2 2l2 0l2 2l2 0M352 378l-2 -2l0 -2l-10 -10l-2 0l-5 -5l2 -2l0 -2l-2 -2l0 -2l10 -10l0 -2l-2 -2l0 -5l-2 -2l0 -2M488 418l-2 0l-2 -2l-5 0l-2 -2l-2 0l-8 8M288 430l-2 -2l0 -2l-5 -5l0 -2l5 -5l-5 -5l0 -2l-2 -2M242 448l2 -2l2 0l2 2M178 480l2 2M82 530l5 -5l0 -8M155 560l-2 0l-2 -2l-2 2l-2 -2M510 108l2 2l2 0l2 2l2 0l2 -2M550 160l2 2l-8 8l0 2l-2 2M235 158l2 2l0 2l12 12l5 0l5 5l2 0l2 2M280 178l0 2l-2 2l0 2l-2 2M192 178l2 -2l8 0l2 2l2 0l2 2l2 0l10 10l2 -2l2 2l8 -8M575 168l2 -2l2 2l2 0l5 5l0 5l2 2M452 180l2 0l2 -2l5 5l2 0M468 250l2 2l2 0l2 2l0 2M595 258l-5 -5l0 -8l-2 -2l0 -2l-5 -5l-5 0l-2 -2l-5 0l-5 -5l-5 5M218 312l2 -2l0 -2l8 -8l2 2l2 -2M368 308l-5 -5l0 -2l-10 -10M415 322l0 -2l-5 -5l-2 0l-2 -2l0 -2l8 -8M438 320l0 -8l5 -5l-2 -2l0 -2l5 -5M482 325l-2 -2l2 -2l-5 -5l2 -2l-5 -5l-8 8l-2 -2M545 340l-2 0l-2 -2l0 -2l-5 -5l0 -5l-2 -2l2 -2l-5 -5M420 422l2 2l-2 2l5 5M422 420l-2 2M135 430l5 5l2 0l15 15l2 0l2 2M215 470l-2 2l-8 -8M300 475l2 2l8 -8M250 502l5 0l2 -2l0 -2M355 510l-2 -2l-2 0M58 525l8 -8l2 0l8 -8l5 5l2 0M210 525l-2 -2l-2 0l-2 -2l0 -2M170 525l0 -2l5 -5l-10 -10l-5 0M588 42l5 5l0 2l5 5l0 2l8 8l0 2l5 5M630 38l-2 0l-2 2l0 5l-5 5l5 5l0 5M440 78l-2 2l0 2l-2 2l0 2l-2 2l0 2l-8 8l0 5M450 100l0 2l-8 8l0 2l-10 10l0 2l-2 2l2 2l0 2M702 92l15 -15l-5 -5l5 -5M695 112l2 2l0 2M535 132l5 -5l0 -2l2 -2l2 0l2 -2l2 2l5 -5l2 0l2 -2M630 158l5 5M432 148l2 2l0 2l5 5l2 0l5 5l-2 2l0 2l-2 2l10 10M328 165l0 2l10 10l0 2l5 5l0 2M370 172l5 5l2 -2M220 228l0 2l5 5M460 230l2 2l0 8l5 5l0 5M188 240l10 0l2 -2l2 0l2 -2l2 0l2 -2l8 0l10 10l2 0M448 255l0 2l2 2M558 240l-5 -5M220 252l5 -5l5 5l5 -5M395 255l-2 -2M410 282l2 2M328 280l5 -5l-2 -2l2 -2l-2 -2M202 272l12 12l0 2l5 5M588 285l-10 10l-2 -2l-5 5l-2 0M318 295l2 2l-2 2l5 5M192 302l5 0M240 342l0 5l2 2M500 335l5 -5l-2 -2l0 -2l2 -2l0 -8l2 -2l0 -2l2 -2l2 0l5 -5M288 340l10 -10l0 -5l2 -2M302 342l-2 -2l2 -2l2 0l5 -5l-2 -2l0 -8l2 -2M438 348l2 0M290 435l-2 -2l0 -2M475 430l-10 -10M162 450l0 2M212 442l2 -2l-2 -2l2 -2l0 -5l2 -2l2 0M388 470l8 8l0 2l2 2l2 -2l2 0l2 2l2 -2l2 2M310 488l0 -12l2 -2M365 490l-8 -8l-2 2l-5 -5l0 -5l2 -2l-2 -2l0 -2M328 538l2 -2l2 2l2 0l8 -8l2 0l2 2M198 548l5 -5l0 -5l-2 -2l0 -2l-2 -2l2 -2l0 -2l2 -2l-2 -2l2 -2M110 545l2 -2l5 0l2 -2l0 -2l10 -10l2 0l5 5M198 552l0 -5M148 585l-2 -2l2 -2l-8 -8M572 58l0 2l5 5l0 2M728 65l-2 -2l0 -5l-5 -5l-5 0M445 72l-5 5M448 90l-2 2l0 2l5 5M752 90l-2 -2l-2 2l-2 0l-15 -15M718 85l0 -2l-2 -2M475 128l0 10l-2 2M645 125l-8 8l-2 0l-10 -10l-5 0l-2 2l-5 -5M288 140l-2 2l0 2l-2 2l0 5l-5 5l0 2l-2 2l0 5l5 5l-2 2l2 2M362 142l8 8l0 2l5 5l0 2l8 8l0 2l2 2l0 2l2 2M342 142l10 10l2 0l5 5l0 2l8 8l2 0l8 8M615 130l2 -2l-2 -2l0 -2M308 152l8 8l0 2l12 12l2 -2l8 8M485 155l-2 2M188 148l2 0l2 -2l2 2l2 0l2 2l2 0l8 8l2 0l18 18l2 0l2 2l2 0l2 2l2 0l8 8l5 0l2 2l0 2l5 5l0 5M300 168l0 2l5 5l-2 2l0 2l-5 5l2 2l0 2l-12 12l2 2l0 2l-2 2l8 8l0 5l-2 2M552 158l-2 2M418 185l2 2l-2 2M518 185l2 2l2 -2l8 8l2 0l2 -2l8 8M548 188l-2 -2l-5 5M190 198l2 2l0 2l12 12l2 0l5 5M200 198l0 5l10 10l0 2M245 205l5 5l2 0l2 -2l10 10l-2 2l0 2l2 2M480 212l2 2l0 8l5 5l0 2l-2 2l5 5l-2 2l5 5l2 -2l2 2l8 -8l2 2l2 0l2 -2M242 208l2 -2M658 210l-2 0l-2 2l-2 0l-5 -5l0 -10l-2 -2M520 228l5 0M202 268l0 2l5 5l0 2M575 255l-8 -8l-5 0l-2 -2l0 -2l-2 -2M312 295l5 5M380 300l-2 -2l-2 0l-8 -8l0 -2l2 -2l-8 -8M428 302l0 -8M212 318l5 -5M452 332l2 0M498 360l-2 0l-2 -2l-2 0l-2 -2l-5 0M418 358l8 -8l0 -2l2 -2l5 0l2 2l2 0M338 382l-8 8l0 2l2 2l0 2M420 382l-2 2l-12 -12l-2 0l-2 -2l0 -2l-15 -15l-2 2l-2 0l-5 -5l-2 0M495 388l5 -5l-5 -5l5 -5l0 -2l2 -2l0 -2l-5 -5M165 418l5 0l2 2l2 0l5 -5l0 -2M332 438l-2 2M448 432l-2 0l-2 -2l-5 5M365 428l-2 -2l-2 0l-10 10l-2 0l-2 2l-2 0M182 450l2 2l2 0l2 2l2 0l5 -5l5 0l2 -2l2 0l5 -5M458 478l-8 0l-2 -2l-2 2l-2 0l-5 5l-8 0M90 472l22 22M280 468l0 -2l2 -2M188 490l-8 0l-2 2l-5 0l-2 -2l-2 2l-2 0M48 510l2 2l2 0l2 2l5 0l2 -2l5 5M370 515l-2 0l-5 5l-2 -2l0 -2l-5 -5M228 535l-2 0l-5 -5l0 -2l-2 -2l-8 0M338 522l0 -2l5 -5l2 2l5 -5M135 535l2 -2M295 545l-5 0l-2 -2l0 -5l-2 -2M300 562l-10 -10l0 -2l-2 -2l0 -5M178 562l-2 -2l-5 0l-5 5l-5 0l-5 -5M262 565l10 -10l2 0l2 -2l0 -15M160 585l-2 -2l-8 0l-2 -2M148 592l2 -2l-2 -2l0 -2M618 20l5 5l0 2l-2 2l0 2l2 2l-8 8l0 2M585 45l5 5l2 0M745 40l-2 2l-2 -2l-5 0l-5 5l-2 0M685 58l-2 -2M482 60l2 0l2 -2l2 2l2 0l2 2l2 -2l5 5M470 62l2 -2l5 0l2 -2l2 2M555 75l8 0l2 -2l2 0l5 -5M382 92l-2 2l2 2l0 2l-2 2l5 5l0 2l2 2l0 2l2 2l0 5l2 2l2 0l5 5M458 108l12 12l0 2l5 5M592 85l2 2l2 -2l2 2l2 0l2 2l2 -2M712 88l-2 -2M578 88l8 -8l2 2l2 0l2 2M398 110l0 2l8 8l0 2l-5 5l0 2M510 95l5 -5l0 -8l2 -2l2 0l2 2l2 -2l2 0M652 100l-5 0l-2 2M345 115l0 2l-2 2l2 2l5 0l2 2l2 -2l2 2l2 -2l18 18l0 2M710 92l0 -2l2 -2M368 118l-5 5l0 2M605 112l2 -2l2 0l2 -2M578 110l0 -2M340 135l0 2l2 2l0 2M380 135l0 5l-2 2M448 132l-2 2l0 2l-2 2M690 138l-2 0l-2 2l-2 0l-2 -2M455 145l-2 2l0 5l2 2l0 2M395 150l2 2M622 152l0 2l-5 5l5 5l-2 2M255 162l0 2l12 12l0 2l-2 2M405 158l0 5M192 158l5 5l2 0l2 -2l5 5l2 -2l15 15l2 0l2 2l2 0l2 2M480 170l5 5M500 168l0 2l-10 10M322 188l0 5l-5 5l-2 0l-8 8l0 5l2 2l0 5M310 198l2 2M605 182l-2 -2M428 200l-8 8M378 200l-2 2l0 2l-2 2l0 5l-2 2l0 2l5 5l-2 2l2 2l0 5M430 215l0 5l-2 2l0 2l2 2l-5 5M188 208l5 5l-2 2l0 2l8 8l2 -2l5 5l10 0M338 215l2 0l2 2l2 0l2 -2l2 0l2 -2M392 225l2 2l-2 2l0 2l8 8M568 225l-2 2M185 220l2 0l2 -2M245 230l2 0l2 2l8 -8l2 0l2 2l2 -2M532 235l-2 -2l0 -2M378 235l-2 -2M628 238l-2 -2l0 -2l-8 -8l-5 0l-2 -2l-8 0M192 265l5 5l2 0l2 2M535 270l2 2l-2 2l-2 0M262 275l2 0l2 -2l5 5l0 2l2 2l-2 2l2 2l0 2l8 8l0 2l5 5l0 2l5 5l2 0l2 2l5 0M422 258l2 0l2 2l2 0M248 275l5 5l0 5l2 2l0 5l15 15l0 5l5 5l0 2l8 8l2 0l2 -2M558 280l-2 2M585 282l2 2M370 275l0 -2M455 270l5 5M240 285l10 10l-2 2l2 2M522 278l0 -2M532 298l2 -2l0 -2l5 -5l-2 -2l2 -2l0 -2M400 308l2 -2l2 0l2 -2l5 0M492 298l2 -2l0 -8l-2 -2M545 295l-2 -2l2 -2l-5 -5l0 -2M238 318l2 -2l2 0l2 2l0 2l2 2l2 0l2 -2l2 0l2 2l2 0l2 -2l2 0M200 342l2 -2l2 0l2 2l2 0l5 -5l2 0l5 5l5 0l5 5l2 0l2 2l5 0M178 348l-2 2l0 2l-2 2l8 8l0 2l-2 2l2 2M270 335l2 2M540 342l2 -2M488 350l-5 5M540 348l-2 -2l2 -2M215 368l2 2l-2 2l5 5l2 0l2 2l-5 5l0 2l5 5l-5 5l-2 0l-2 2l0 2l2 2l-2 2l0 2M508 355l-2 0l-2 -2l-5 5l-8 -8l-2 0M190 355l-10 10M358 358l-2 -2l0 -2l5 -5l0 -2M322 372l5 5l0 5l5 5M368 362l-2 -2l-2 0l-2 -2l-2 0M325 390l8 8M335 390l-2 2l0 2M435 392l2 2l5 0l2 2M248 410l5 0l2 2l0 2M248 402l0 5l2 2M372 392l2 -2l2 2l8 -8l0 -2l5 -5M405 400l-2 -2l0 -2l-2 -2l0 -5l-10 -10M398 395l2 -2M310 412l2 0M335 405l-2 2l-5 -5M235 415l2 -2l2 0l2 -2l5 0M138 422l5 5l0 5l5 5l0 2M250 425l2 -2l-2 -2M162 438l0 5l-2 2l0 2l2 2M130 458l-2 2M470 445l-2 0l-2 -2l-2 0l-2 -2l-2 2l-2 -2l0 -2l-2 -2l-2 0l-2 -2M90 468l2 2l-2 2M385 468l2 2M380 468l5 0M442 460l-8 0M122 485l5 0l2 -2l0 -5l5 -5M220 480l2 -2l-8 -8M428 495l-2 2M228 498l5 -5l2 0l5 -5l2 0l2 -2l0 -2l2 -2l0 -2M290 500l-5 -5l0 -2l-2 -2l-2 0l-2 -2M318 515l-2 2l-2 -2l-5 0l-5 -5l-2 0l-10 -10M108 510l-2 -2M278 518l-10 -10M68 528l10 -10l2 0l2 -2M248 528l2 2l2 -2l2 2l8 -8M205 540l-2 -2M298 548l-2 -2M200 552l-2 -2M152 572l-2 -2l-5 0l-2 -2l0 -2M165 598l-5 0l-2 -2l-2 0l-5 -5M612 18l2 2l2 0M460 30l2 0M608 28l0 2l10 10M572 35l10 10l2 0M630 32l2 2l-2 2M578 45l2 0l5 5l2 -2M735 50l-2 0l-5 -5M560 65l2 -2l2 2l2 0l2 2l2 0M465 48l2 0l5 -5l2 2l5 0M545 60l2 0l2 2l5 0l2 2l2 0M700 55l2 -2l-2 -2M740 55l-5 -5M652 72l-2 2l-5 0l-2 -2M540 65l5 -5M735 68l-5 0l-2 -2M418 88l5 5l2 0l2 2l-5 5l2 2M478 90l2 2l0 5l20 20l2 0l2 -2l2 2l8 -8M402 92l0 2l8 8l-2 2l0 2l2 2l0 2l2 2l-8 8M372 98l2 0l2 2l0 5l2 2l-2 2l2 2l2 0l8 8M748 100l-12 -12l0 -2l-2 -2l0 -2l-2 -2l0 -2M470 132l0 5l2 2M678 130l-2 2l0 2l-2 2M735 108l2 -2l0 -5l5 -5M315 128l2 2l0 5l2 2l5 0l2 2l-2 2l20 20l0 5l2 2l0 2l5 5l0 5l2 2l0 2l-5 5l2 2l0 2M425 135l2 2l0 5l5 5M570 128l2 2l0 2l2 2l2 0l2 2l-5 5l0 2l2 2l0 2l2 2l5 -5l2 2l0 2l2 2l2 -2l2 0M588 135l0 2l-5 5l0 2l2 2M370 142l5 5l2 0M412 150l-8 8M548 152l5 5M652 152l-12 12l-2 0M325 155l-2 2l0 2l5 5M530 158l5 5l2 0l2 2l0 5l2 2l0 2M192 170l5 5M470 175l5 5l2 0l2 2l-2 2M572 165l2 -2l2 2M518 175l2 2l2 0l5 5l0 2l-2 2M362 165l8 8M448 178l2 0M322 205l-2 2l0 2l-2 2l-2 0l-5 5M522 202l2 0l5 -5l2 2l0 5l5 5M608 192l-2 -2l0 -2l-2 -2l2 -2M465 212l8 8l0 2l-8 8l0 2l8 8l0 2l10 10l0 2l-5 5M480 210l0 2M605 198l0 -2l2 -2M615 212l-10 10M458 215l2 0l2 -2l2 0M548 225l-2 0M330 240l2 0l8 8l8 0M660 228l-2 -2l0 -2l-5 -5l0 -2l-2 -2M350 235l-2 2M640 218l2 -2l0 -2l2 -2l0 -2M552 270l0 5l-2 2l0 2l-2 2M560 250l2 -2M282 262l2 -2M295 290l2 2l0 2l2 2l2 0M352 285l2 2M555 288l-2 -2M395 312l5 -5M458 320l2 0M535 315l-5 0M210 318l2 0M395 320l2 -2l0 -2l-2 -2M358 325l-2 -2l-2 0l-2 2M408 332l2 -2l0 -2l5 -5M515 340l-2 2l-2 -2l-5 0l-5 -5M160 350l2 2l0 5M378 342l-2 2l-2 0l-2 2M438 355l0 -5l2 -2M445 360l-8 -8M378 375l0 -2l-10 -10M322 392l2 -2M402 375l-2 -2l-2 2l-2 -2l-2 0l-2 2M342 398l-8 -8M270 392l2 -2M472 410l0 2M292 408l-2 0l-8 -8l-2 2l-2 0M342 405l-2 -2l0 -2l2 -2M380 420l-2 2l-2 0l-2 2l-2 -2l-5 5M292 432l-2 2M112 442l2 2l-2 2l5 5l2 0l8 8M428 442l2 2M458 450l0 -8M120 460l2 -2l2 0M410 472l-2 2l2 2l0 5M358 462l-2 0l-5 5M208 472l-2 -2l0 -5M90 492l2 0l2 2l8 0l2 -2l2 2l5 0M72 495l5 5l2 0l2 2l5 -5l2 2l2 0l8 8M148 510l2 2l2 0l2 -2l2 0l2 -2M310 492l0 -5M222 505l0 -2l5 -5M188 512l0 -5M112 530l8 8M290 538l-2 0M245 532l2 -2l2 0M108 532l2 0l2 -2M348 548l-2 -2l0 -2l5 -5l0 -2l-2 -2M325 550l2 -2l0 -2l8 -8M325 552l0 -2M440 38l2 0l2 2l2 0l2 2M758 52l-12 -12M745 60l-5 -5M752 65l-2 -2l-2 0l-2 -2M755 70l-2 -2l0 -2M758 78l-12 -12l2 -2M690 80l-2 -2l0 -5l-2 -2l0 -8l2 -2l-2 -2M428 115l-2 2M692 110l2 2M320 142l5 5l0 8M522 155l2 2l5 0M232 160l2 -2M388 200l-5 5l0 2l-5 5l2 2l0 2l-5 5M475 192l2 -2l5 0M598 222l0 -2M205 265l-2 2M238 265l2 0l5 5l0 2l2 2M615 260l-2 -2l0 -2l-2 -2l0 -2M608 265l5 -5l0 -2M248 285l2 0l5 5M435 288l-5 5M170 342l5 5l0 2M328 338l5 -5l0 -5l5 -5M288 362l-2 2l2 2l-5 5l5 5l2 0M320 342l2 0l5 -5M202 388l2 2l0 5l2 2l0 2l5 5l-2 2l2 2l2 0M288 385l-2 -2M462 380l-5 -5M385 395l-5 -5M272 400l0 -2M322 418l-2 -2M258 420l-8 0M125 450l0 2l5 5M262 442l-2 2M265 442l-2 0M410 455l2 -2l0 -5l10 -10l0 -2l2 -2M408 455l2 0M475 448l-2 -2l-2 0M262 450l2 -2M365 478l-5 5l-2 0M335 495l2 -2M82 532l0 -2M115 538l2 -2M245 540l2 -2l-2 -2l0 -2M320 558l5 -5M275 560l-2 -2l2 -2M278 562l-2 -2"/><path id="v3" fill="none" stroke-linecap="round" stroke-linejoin="round" d="M262 472l2 -2l-2 -2l0 -5l2 -2l0 -2M248 372l8 8l-2 2l0 5l2 2l2 0l5 -5M628 75l-8 8l0 8l2 2l2 -2l5 0l5 5M602 222l-2 -2l-2 0l-12 -12l-2 0l-2 -2l-8 0l-5 -5M412 302l2 0l8 -8l5 0l2 -2M480 45l5 0l2 -2l12 12l2 0l5 5l2 -2l8 8l-2 2l0 2l5 5l5 0l2 2l0 2l8 8l0 2l15 15l2 0l5 5l0 2l2 2l5 0l8 -8l2 2l10 -10l2 0l8 -8l8 8l0 2l2 2l2 0l2 2l10 0M645 148l-2 2l0 2l-2 2l0 2l-10 10l-2 0l-2 2l-2 -2l-2 0l-2 2l-2 0l-2 2M525 110l2 -2l2 2l5 0l5 -5l0 -2l2 -2l2 0M480 352l-8 -8l0 -2l-5 -5l-2 0l-2 2l-2 0l-2 -2l-2 2M315 465l5 -5l-2 -2M622 68l5 5l0 2M695 120l0 2l-15 15l-8 0l-2 2l-2 0l-2 2l-10 0l-5 5l-5 0M415 212l0 5l2 2l-2 2l10 10l0 2l2 2l-2 2l2 2l-2 2l5 5l-2 2l5 5l-2 2l5 5l5 0l5 -5l2 2l2 -2l5 5l0 2l5 5l0 2l5 5l0 2l-5 5l8 8l2 0l5 -5l2 0l2 2M215 228l8 8l2 0l5 5l0 2l10 10l2 0l2 -2l5 5l2 -2l2 0l2 -2l2 0l2 2l2 -2l2 0l5 5l2 0l2 2l2 0l2 2l2 0l2 2l2 0l2 2l2 -2l8 8l2 0l2 2l8 -8l2 0l8 8l2 0l2 -2l0 -2l2 -2l0 -2l15 -15l8 8l2 0l2 -2M552 235l-2 -2l0 -2l-8 -8l-2 0l-2 2l-2 -2l-2 2M508 288l-2 -2l-5 0l-2 -2l-2 2l-2 0l-2 -2M318 310l8 -8l2 2l2 -2l8 0l2 -2l5 0l2 -2l0 -2l15 -15l0 -2l2 -2l2 0l2 -2l0 -2M562 292l0 -2l-8 -8l-2 2l-2 0l-2 -2l-5 0l-5 -5l-2 0l-2 -2l-5 5l-8 -8l-2 0l-2 -2l-5 0l-2 2l-2 0l-2 -2M220 292l5 5l5 0l5 5l2 -2l2 0l2 2l2 -2l5 0l5 5l-2 2l15 15l0 2l8 8l0 2l-2 2l0 5M182 380l5 5l-2 2l5 5l0 10l8 8l-2 2l5 5M338 322l-5 -5l0 -2l-2 -2l5 -5l-2 -2l2 -2M465 420l-2 -2l-2 0l-2 2l-8 0l-2 -2l0 -5l-2 -2l0 -2l-2 -2M278 402l-5 -5M88 518l2 -2l2 0l8 -8l5 0l12 -12l2 2l2 -2l2 0l2 2l2 -2l2 0l2 -2l5 0l2 2M145 558l0 -2l-2 -2l0 -2l2 -2l0 -2l-2 -2l0 -2l2 -2l0 -2l8 -8l-2 -2l0 -2l-2 -2M522 110l2 0M475 148l5 5l0 2l5 5l-2 2l0 2l-2 2l5 5l0 2l12 12l0 8l-2 2l2 2l0 5l-2 2l2 2l0 2l-2 2l2 2l0 2l-2 2l15 15l2 0l5 -5l2 0l5 -5l5 0M542 175l-2 2l0 8l-2 2l2 2l0 2l2 2l0 2l2 2l-8 8l0 2l2 2M265 182l0 2l8 8l0 5l2 2l0 2l2 2l0 5l-5 5l0 2l-2 2l15 15l5 0l2 2l0 2l-2 2l5 5l-5 5l2 2l0 5l2 2M275 188l2 2l0 8l-2 2M235 182l5 5l2 0l2 2l2 0l5 5l2 0l2 2l0 2l2 2l2 0l8 8l0 5l2 2M465 182l2 -2l5 5l5 0l5 5l2 0l2 2l0 2l2 2l5 0M628 188l-8 -8l-2 0l-8 -8M308 235l8 8l-5 5l0 2l12 12l-2 2l0 2M475 258l-5 5l-2 0l-5 5l0 5l2 2l-2 2M560 232l-2 2l-5 0M530 315l-15 -15l0 -2l-5 -5l0 -2l-2 -2M162 452l-2 2l2 2l-2 2l2 2l-2 2l-5 0l-5 5l0 2l-2 2l0 2l-2 2l5 5l-5 5l0 5M258 498l5 -5l2 0l2 -2l0 -2l5 -5l0 -2l-2 -2l-2 2l-5 -5l0 -2M350 508l-2 -2l2 -2l-5 -5l-2 0l-5 -5l2 -2l0 -2l2 -2l0 -2l-2 -2l0 -2l2 -2l0 -8M82 515l2 0l2 2M202 518l0 -2l-8 -8l0 -2M610 72l10 10M425 105l-2 2l2 2l-2 2l2 2l0 2l-2 2l5 5l0 2l10 10l2 0l2 2l-2 2l5 5l0 2l8 8l2 0l2 2l0 2l5 5l-2 2l0 2l8 8M718 68l0 -8l-2 -2l2 -2l-5 -5l2 -2l-2 -2l-8 0l-5 5l-2 0l-2 -2M342 188l15 15l-2 2l0 5l-2 2l5 5l0 2l10 10l2 0l2 2l0 2l-8 8l0 2l-5 5l0 2M378 175l2 0l2 2l5 0l5 5l-2 2l5 5l0 2l5 5l0 5l8 8l-2 2l0 5l-2 2l5 5l0 5l2 2l0 2l-2 2l-2 0l-2 2l-2 0l-5 5l0 2l-2 2l0 2l-8 8l-5 0l-2 -2l-2 0l-5 5l-10 -10M285 248l5 5M242 350l5 5l0 18M300 322l5 -5l2 0l2 2l2 -2l0 -2l5 -5M440 348l8 -8l8 0M410 482l15 15M348 532l2 -2l0 -2l2 -2l0 -2l2 -2l-2 -2l0 -2l-2 -2l2 -2l-2 -2M138 532l2 -2l2 2l5 0M140 572l0 -5l2 -2l0 -2l2 -2l0 -2M578 68l5 5l5 -5l12 12l2 0l2 2l0 2l8 8l5 0l2 -2M730 75l-12 -12M472 140l-2 2l5 5M292 225l0 5l2 2l0 5l-2 2M265 225l2 0l5 5l0 2l10 10l0 2l2 2M640 195l-8 -8l-5 0M642 195l-2 0M482 355l-2 -2M332 398l-8 8l0 2l-2 2l0 2l-2 2l-2 -2l-5 0M372 350l-8 -8l-2 2l-2 0l-2 -2l0 -2l-8 -8l0 -2l-2 -2l2 -2l-8 -8l2 -2l-2 -2l0 -8l2 -2l0 -2M330 440l-5 5l0 2l-2 2l0 2M438 435l-2 2l-5 -5l-5 0M342 438l-2 -2l-5 5l-5 0M112 495l5 0M272 532l-10 -10l0 -2l5 -5l-2 -2l0 -2l2 -2l-10 -10M285 535l-5 0l-2 2l-5 -5M615 45l2 2l-2 2l5 5l0 2l-2 2l0 2l5 5M728 45l-2 0l-2 -2l-5 5l-2 0M572 68l5 0M400 130l2 2l0 2l2 2l-5 5l2 2l-2 2l0 2l-2 2l0 2l8 8l0 2l-8 8l0 5l-5 5M378 142l0 5l5 5l0 2l2 2l0 2l5 5l-2 2l5 5l2 0l2 2M310 218l0 2l-2 2l0 8l2 2l-2 2M375 232l-2 2M302 315l2 2M288 325l2 2l5 -5l5 0M180 370l0 2l5 5l-2 2M372 352l0 -2M390 378l0 -2l-5 -5l0 -5l-12 -12M128 460l0 2l8 8l0 2l2 2l2 0l2 -2l2 0l2 2M275 485l0 -2l-2 -2M278 488l-2 -2M478 260l-2 -2"/>
<g id="lake" stroke-linecap="round" stroke-linejoin="round" fill="none"><polyline points="302.0,366.6 288.6,382.0 275.0,395.4 266.0,406.5 253.0,417.6" stroke-width="4.5"/><polyline points="277.0,392.0 268.0,388.0 260.0,384.0" stroke-width="2.5"/><polyline points="280.0,390.0 271.0,367.0 266.0,349.0 275.0,340.0" stroke-width="1.8"/><polyline points="252.0,420.0 240.0,432.0 228.0,444.0 218.0,454.0" stroke-width="15.0"/><polyline points="218.0,454.0 208.0,463.0 197.0,471.0" stroke-width="10.0"/><polyline points="197.0,471.0 182.0,483.0 170.0,493.0" stroke-width="7.5"/><polyline points="170.0,493.0 164.0,506.0 158.0,516.0" stroke-width="5.0"/><polyline points="158.0,517.0 152.0,520.0 140.0,518.0 128.0,520.0" stroke-width="3.0"/><polyline points="129.0,520.0 127.0,520.5" stroke-width="6.0"/><polyline points="162.0,520.0 160.0,532.0 159.0,550.0" stroke-width="1.3"/><polyline points="175.0,495.0 182.0,511.0 192.0,508.0 201.0,503.0" stroke-width="1.8"/><polyline points="165.0,494.0 150.0,497.0 138.0,497.0" stroke-width="3.0"/><polyline points="246.0,449.0 262.0,447.0 278.0,451.0 292.0,451.0 306.0,445.0 318.0,442.0" stroke-width="14.0"/><polyline points="264.0,458.0 285.0,464.0 300.0,465.0 318.0,458.0" stroke-width="9.0"/><polyline points="312.5,412.5 313.7,427.5 315.0,436.0" stroke-width="2.0"/><polyline points="320.0,452.0 326.0,458.0 331.0,467.0" stroke-width="3.0"/><polyline points="147.5,395.0 157.5,398.0 167.0,402.0 177.0,410.0 187.0,416.0 200.0,418.0 208.0,420.0 216.0,424.0 228.0,434.0" stroke-width="4.5"/><polyline points="165.0,399.0 168.0,390.0 175.0,383.0" stroke-width="2.5"/><polyline points="222.0,430.0 218.0,420.0 217.0,412.0" stroke-width="4.5"/><polyline points="203.0,462.0 195.0,461.0 184.0,458.0" stroke-width="3.5"/></g><g id="lakeh" stroke-linecap="round" stroke-linejoin="round" fill="none"><polyline points="302.0,366.6 288.6,382.0 275.0,395.4 266.0,406.5 253.0,417.6"/><polyline points="252.0,420.0 240.0,432.0 228.0,444.0 218.0,454.0"/><polyline points="218.0,454.0 208.0,463.0 197.0,471.0"/><polyline points="197.0,471.0 182.0,483.0 170.0,493.0"/><polyline points="170.0,493.0 164.0,506.0 158.0,516.0"/><polyline points="158.0,517.0 152.0,520.0 140.0,518.0 128.0,520.0"/><polyline points="129.0,520.0 127.0,520.5"/><polyline points="165.0,494.0 150.0,497.0 138.0,497.0"/><polyline points="246.0,449.0 262.0,447.0 278.0,451.0 292.0,451.0 306.0,445.0 318.0,442.0"/><polyline points="264.0,458.0 285.0,464.0 300.0,465.0 318.0,458.0"/><polyline points="320.0,452.0 326.0,458.0 331.0,467.0"/><polyline points="147.5,395.0 157.5,398.0 167.0,402.0 177.0,410.0 187.0,416.0 200.0,418.0 208.0,420.0 216.0,424.0 228.0,434.0"/><polyline points="222.0,430.0 218.0,420.0 217.0,412.0"/><polyline points="203.0,462.0 195.0,461.0 184.0,458.0"/></g>
<g id="river" shape-rendering="crispEdges" stroke-linecap="round" stroke-linejoin="round" fill="none"><line x1="700.0" y1="47.0" x2="686.0" y2="52.0" stroke-width="8.0"/><line x1="686.0" y1="52.0" x2="681.0" y2="62.0" stroke-width="8.2"/><line x1="681.0" y1="62.0" x2="679.0" y2="80.0" stroke-width="8.8"/><line x1="679.0" y1="80.0" x2="675.0" y2="96.0" stroke-width="9.2"/><line x1="675.0" y1="96.0" x2="663.0" y2="109.0" stroke-width="9.8"/><line x1="663.0" y1="109.0" x2="653.0" y2="108.0" stroke-width="10.0"/><line x1="653.0" y1="108.0" x2="642.0" y2="98.0" stroke-width="9.5"/><line x1="642.0" y1="98.0" x2="633.0" y2="96.0" stroke-width="8.8"/><line x1="633.0" y1="96.0" x2="625.0" y2="103.0" stroke-width="8.5"/><line x1="625.0" y1="103.0" x2="618.0" y2="114.0" stroke-width="7.8"/><line x1="618.0" y1="114.0" x2="605.0" y2="130.0" stroke-width="6.5"/><line x1="605.0" y1="130.0" x2="594.0" y2="145.0" stroke-width="6.0"/><line x1="594.0" y1="145.0" x2="595.0" y2="160.0" stroke-width="6.2"/><line x1="595.0" y1="160.0" x2="606.0" y2="170.0" stroke-width="6.2"/><line x1="606.0" y1="170.0" x2="613.0" y2="174.0" stroke-width="5.0"/><line x1="613.0" y1="174.0" x2="595.0" y2="186.0" stroke-width="3.3"/><line x1="595.0" y1="186.0" x2="577.0" y2="195.0" stroke-width="2.6"/><line x1="577.0" y1="195.0" x2="564.0" y2="204.0" stroke-width="2.6"/><line x1="564.0" y1="204.0" x2="551.0" y2="207.0" stroke-width="2.7"/><line x1="551.0" y1="207.0" x2="546.0" y2="209.0" stroke-width="3.1"/><line x1="546.0" y1="209.0" x2="537.0" y2="222.0" stroke-width="3.5"/><line x1="537.0" y1="222.0" x2="529.0" y2="237.0" stroke-width="3.5"/><line x1="529.0" y1="237.0" x2="520.0" y2="249.0" stroke-width="3.5"/><line x1="520.0" y1="249.0" x2="511.0" y2="262.0" stroke-width="3.5"/><line x1="511.0" y1="262.0" x2="500.0" y2="277.0" stroke-width="3.4"/><line x1="500.0" y1="277.0" x2="486.0" y2="289.0" stroke-width="3.1"/><line x1="486.0" y1="289.0" x2="475.0" y2="302.0" stroke-width="3.0"/><line x1="475.0" y1="302.0" x2="464.0" y2="315.0" stroke-width="2.8"/><line x1="464.0" y1="315.0" x2="458.0" y2="326.0" stroke-width="2.4"/><line x1="458.0" y1="326.0" x2="455.5" y2="342.0" stroke-width="2.1"/><line x1="455.5" y1="342.0" x2="460.0" y2="360.0" stroke-width="2.0"/><line x1="460.0" y1="360.0" x2="458.0" y2="373.0" stroke-width="2.0"/><line x1="458.0" y1="373.0" x2="451.0" y2="391.0" stroke-width="2.1"/><line x1="451.0" y1="391.0" x2="444.0" y2="402.0" stroke-width="2.6"/><line x1="444.0" y1="402.0" x2="440.0" y2="417.0" stroke-width="3.8"/><line x1="440.0" y1="417.0" x2="431.0" y2="430.0" stroke-width="4.8"/><line x1="431.0" y1="430.0" x2="418.0" y2="435.0" stroke-width="4.0"/><line x1="418.0" y1="435.0" x2="400.0" y2="434.5" stroke-width="2.7"/><line x1="400.0" y1="434.5" x2="385.0" y2="437.5" stroke-width="2.4"/><line x1="385.0" y1="437.5" x2="375.0" y2="445.0" stroke-width="2.4"/><line x1="375.0" y1="445.0" x2="357.0" y2="455.0" stroke-width="2.4"/><line x1="357.0" y1="455.0" x2="352.0" y2="469.0" stroke-width="2.4"/><line x1="352.0" y1="469.0" x2="332.0" y2="469.0" stroke-width="2.4"/><line x1="332.0" y1="469.0" x2="326.0" y2="458.0" stroke-width="2.7"/><polyline points="613.0,174.0 591.0,182.0 573.0,191.0 555.0,200.0 546.0,209.0" stroke-width="2.2"/><polyline points="429.0,437.0 433.0,453.0 436.0,465.0 431.0,478.0 427.0,500.0" stroke-width="1.6"/><polyline points="345.0,235.0 358.0,250.0 370.0,270.0 385.0,277.0 400.0,280.0 425.0,290.0 450.0,300.0 464.0,315.0" stroke-width="0.9"/></g></defs>
<rect width="3150" height="882" fill="#fff"/>
<g transform="translate(0,0)" filter="url(#rough)"><g clip-path="url(#clip)"><g filter="url(#q0)"><rect x="-60" y="-60" width="920" height="740" fill="rgb(128,128,128)"/><g filter="url(#blur)"><polygon points="425.0,20.0 470.0,30.0 520.0,60.0 560.0,100.0 600.0,125.0 640.0,140.0 660.0,165.0 670.0,200.0 680.0,215.0 655.0,245.0 630.0,255.0 605.0,295.0 575.0,320.0 545.0,330.0 520.0,320.0 500.0,290.0 470.0,270.0 455.0,235.0 437.0,205.0 448.0,170.0 438.0,140.0 452.0,100.0 440.0,75.0 445.0,50.0" fill="rgb(84,84,84)" /><polygon points="622.0,165.0 660.0,160.0 690.0,175.0 690.0,215.0 670.0,240.0 640.0,240.0 625.0,215.0" fill="rgb(140,140,140)" /><polygon points="130.0,480.0 200.0,470.0 260.0,465.0 330.0,470.0 360.0,480.0 380.0,520.0 360.0,560.0 300.0,600.0 130.0,620.0 125.0,560.0" fill="rgb(84,84,84)" /><polygon points="550.0,0.0 800.0,0.0 800.0,145.0 690.0,152.0 655.0,165.0 625.0,152.0 612.0,130.0 590.0,128.0 570.0,108.0 548.0,80.0 548.0,30.0" fill="rgb(184,184,184)" /><polygon points="585.0,95.0 600.0,92.0 612.0,100.0 612.0,118.0 600.0,126.0 588.0,120.0" fill="rgb(242,242,242)" /><use href="#lakeh" stroke="rgb(84,84,84)" stroke-width="26" opacity="0.80"/></g><use href="#v1" stroke="rgb(255,255,255)" opacity="0.09" stroke-width="1.2"/><use href="#v2" stroke="rgb(255,255,255)" opacity="0.19" stroke-width="1.7"/><use href="#v3" stroke="rgb(255,255,255)" opacity="0.27" stroke-width="2.6"/><g mask="url(#mC)"><use href="#v1" stroke="rgb(255,255,255)" opacity="0.40" stroke-width="1.6"/></g><g mask="url(#mC)"><use href="#v2" stroke="rgb(255,255,255)" opacity="0.45" stroke-width="2.8"/></g><g mask="url(#mC)"><use href="#v3" stroke="rgb(255,255,255)" opacity="0.45" stroke-width="4.2"/></g><g mask="url(#mS)"><use href="#v2" stroke="rgb(255,255,255)" opacity="0.30" stroke-width="2.0"/></g><g mask="url(#mS)"><use href="#v3" stroke="rgb(255,255,255)" opacity="0.40" stroke-width="3.0"/></g><g mask="url(#mSW)"><use href="#v1" stroke="rgb(255,255,255)" opacity="0.25" stroke-width="1.5"/></g><g mask="url(#mSW)"><use href="#v2" stroke="rgb(255,255,255)" opacity="0.30" stroke-width="2.4"/></g><g mask="url(#mMID)"><rect x="0" y="0" width="800" height="620" filter="url(#b0_0)"/></g><g mask="url(#mSE)"><rect x="0" y="0" width="800" height="620" filter="url(#b0_1)"/></g><g mask="url(#mS)"><rect x="0" y="0" width="800" height="620" filter="url(#b0_2)"/></g><g mask="url(#mSB)"><rect x="0" y="0" width="800" height="620" filter="url(#b0_3)"/></g><g mask="url(#mNEW)"><rect x="0" y="0" width="800" height="620" filter="url(#b0_4)"/></g><g mask="url(#mNE)"><rect x="0" y="0" width="800" height="620" filter="url(#b0_5)"/></g><g mask="url(#mNE)"><rect x="0" y="0" width="800" height="620" filter="url(#b0_6)"/></g><g mask="url(#mLake)"><use href="#v1" stroke="#000" stroke-width="1.4"/><use href="#v2" stroke="#000" stroke-width="2.0"/><use href="#v3" stroke="#000" stroke-width="2.6"/></g><polygon points="681.5,56.6 686.5,51.6 700.0,46.6 720.0,43.3 743.0,39.0 763.0,39.0 769.7,43.3 772.0,53.0 774.7,66.6 779.0,74.0 775.5,81.6 770.0,91.5 768.9,91.5 768.0,86.6 764.7,80.0 758.0,78.2 751.4,78.2 746.4,68.3 743.0,56.6 739.8,48.3 733.0,46.6 719.8,48.3 713.2,53.3 706.5,55.0 703.2,50.8 691.5,54.1 685.0,58.3 682.4,63.3 683.0,85.0 674.0,85.0 676.0,70.0" fill="rgb(0,0,0)" /><polygon points="253.0,416.0 240.0,419.0 231.0,420.0 222.0,414.0 214.0,416.0 208.0,424.0 198.0,436.0 192.0,448.0 200.0,456.0 210.0,462.0 222.0,466.0 232.0,462.0 246.0,456.0 262.0,462.0 285.0,469.0 300.0,469.0 312.0,465.0 325.0,460.0 329.0,455.0 322.0,440.0 312.0,433.0 298.0,432.0 284.0,429.0 270.0,433.0 262.0,428.0 258.0,420.0" fill="rgb(20,20,20)" /><g clip-path="url(#cBlob)"><rect x="180" y="400" width="160" height="80" filter="url(#isl)"/><rect x="180" y="400" width="160" height="80" filter="url(#isl2)"/></g><use href="#lake" stroke="#000"/><use href="#river" stroke="#000"/></g></g></g>
<g transform="translate(749,0) scale(1,1.006)" filter="url(#rough)"><g clip-path="url(#clip)"><g filter="url(#q1)"><rect x="-60" y="-60" width="920" height="740" fill="rgb(128,128,128)"/><g filter="url(#blur)"><polygon points="0.0,0.0 350.0,0.0 380.0,120.0 420.0,200.0 440.0,300.0 400.0,400.0 330.0,470.0 120.0,480.0 0.0,560.0" fill="rgb(98,98,98)" /><polygon points="30.0,480.0 120.0,440.0 170.0,480.0 150.0,540.0 90.0,560.0 30.0,530.0" fill="rgb(107,107,107)" /><polygon points="130.0,480.0 200.0,470.0 260.0,465.0 330.0,470.0 360.0,480.0 380.0,520.0 360.0,560.0 300.0,600.0 130.0,620.0 125.0,560.0" fill="rgb(79,79,79)" /><polygon points="490.0,340.0 560.0,280.0 610.0,270.0 625.0,300.0 600.0,340.0 560.0,350.0 520.0,400.0 490.0,400.0" fill="rgb(97,97,97)" /><polygon points="500.0,40.0 550.0,20.0 800.0,0.0 800.0,150.0 690.0,155.0 680.0,185.0 650.0,190.0 620.0,160.0 600.0,140.0 560.0,135.0 520.0,120.0 495.0,90.0" fill="rgb(173,173,173)" /><polygon points="600.0,135.0 625.0,170.0 580.0,215.0 550.0,235.0 535.0,270.0 500.0,310.0 480.0,345.0 455.0,350.0 450.0,320.0 480.0,280.0 505.0,240.0 520.0,205.0 560.0,185.0 585.0,160.0" fill="rgb(145,145,145)" /><polygon points="550.0,0.0 800.0,0.0 800.0,145.0 690.0,152.0 655.0,165.0 625.0,152.0 612.0,130.0 590.0,128.0 570.0,108.0 548.0,80.0 548.0,30.0" fill="rgb(194,194,194)" /><polygon points="585.0,95.0 600.0,92.0 612.0,100.0 612.0,118.0 600.0,126.0 588.0,120.0" fill="rgb(242,242,242)" /><use href="#lakeh" stroke="rgb(84,84,84)" stroke-width="26" opacity="0.80"/></g><use href="#v1" stroke="rgb(255,255,255)" opacity="0.12" stroke-width="1.2"/><use href="#v2" stroke="rgb(255,255,255)" opacity="0.22" stroke-width="1.8"/><use href="#v3" stroke="rgb(255,255,255)" opacity="0.28" stroke-width="2.6"/><g mask="url(#mCORR)"><use href="#v1" stroke="rgb(255,255,255)" opacity="0.30" stroke-width="1.8"/></g><g mask="url(#mCORR)"><use href="#v2" stroke="rgb(255,255,255)" opacity="0.40" stroke-width="3.0"/></g><g mask="url(#mS)"><use href="#v3" stroke="rgb(255,255,255)" opacity="0.30" stroke-width="2.6"/></g><g mask="url(#mSW)"><use href="#v1" stroke="rgb(255,255,255)" opacity="0.30" stroke-width="1.5"/></g><g mask="url(#mSW)"><use href="#v2" stroke="rgb(255,255,255)" opacity="0.35" stroke-width="2.4"/></g><g mask="url(#mSE)"><rect x="0" y="0" width="800" height="620" filter="url(#b1_0)"/></g><g mask="url(#mS)"><rect x="0" y="0" width="800" height="620" filter="url(#b1_1)"/></g><g mask="url(#mSB)"><rect x="0" y="0" width="800" height="620" filter="url(#b1_2)"/></g><g mask="url(#mNEW)"><rect x="0" y="0" width="800" height="620" filter="url(#b1_3)"/></g><g mask="url(#mNE)"><rect x="0" y="0" width="800" height="620" filter="url(#b1_4)"/></g><g mask="url(#mNE)"><rect x="0" y="0" width="800" height="620" filter="url(#b1_5)"/></g><g mask="url(#mLake)"><use href="#v1" stroke="#000" stroke-width="1.4"/><use href="#v2" stroke="#000" stroke-width="2.0"/><use href="#v3" stroke="#000" stroke-width="2.6"/></g><polygon points="681.5,56.6 686.5,51.6 700.0,46.6 720.0,43.3 743.0,39.0 763.0,39.0 769.7,43.3 772.0,53.0 774.7,66.6 779.0,74.0 775.5,81.6 770.0,91.5 768.9,91.5 768.0,86.6 764.7,80.0 758.0,78.2 751.4,78.2 746.4,68.3 743.0,56.6 739.8,48.3 733.0,46.6 719.8,48.3 713.2,53.3 706.5,55.0 703.2,50.8 691.5,54.1 685.0,58.3 682.4,63.3 683.0,85.0 674.0,85.0 676.0,70.0" fill="rgb(0,0,0)" /><polygon points="253.0,416.0 240.0,419.0 231.0,420.0 222.0,414.0 214.0,416.0 208.0,424.0 198.0,436.0 192.0,448.0 200.0,456.0 210.0,462.0 222.0,466.0 232.0,462.0 246.0,456.0 262.0,462.0 285.0,469.0 300.0,469.0 312.0,465.0 325.0,460.0 329.0,455.0 322.0,440.0 312.0,433.0 298.0,432.0 284.0,429.0 270.0,433.0 262.0,428.0 258.0,420.0" fill="rgb(20,20,20)" /><g clip-path="url(#cBlob)"><rect x="180" y="400" width="160" height="80" filter="url(#isl)"/><rect x="180" y="400" width="160" height="80" filter="url(#isl2)"/></g><use href="#lake" stroke="#000"/><use href="#river" stroke="#000"/></g></g></g>
<g transform="translate(1508,3)" filter="url(#rough)"><g clip-path="url(#clip)"><g filter="url(#q2)"><rect x="-60" y="-60" width="920" height="740" fill="rgb(82,82,82)"/><g filter="url(#blur)"><polygon points="500.0,40.0 550.0,20.0 800.0,0.0 800.0,150.0 690.0,155.0 680.0,185.0 650.0,190.0 620.0,160.0 600.0,140.0 560.0,135.0 520.0,120.0 495.0,90.0" fill="rgb(158,158,158)" /><polygon points="600.0,135.0 625.0,170.0 580.0,215.0 550.0,235.0 535.0,270.0 500.0,310.0 480.0,345.0 455.0,350.0 450.0,320.0 480.0,280.0 505.0,240.0 520.0,205.0 560.0,185.0 585.0,160.0" fill="rgb(128,128,128)" /><polygon points="622.0,165.0 660.0,160.0 690.0,175.0 690.0,215.0 670.0,240.0 640.0,240.0 625.0,215.0" fill="rgb(133,133,133)" /><polygon points="30.0,480.0 120.0,440.0 170.0,480.0 150.0,540.0 90.0,560.0 30.0,530.0" fill="rgb(97,97,97)" /><polygon points="550.0,0.0 800.0,0.0 800.0,145.0 690.0,152.0 655.0,165.0 625.0,152.0 612.0,130.0 590.0,128.0 570.0,108.0 548.0,80.0 548.0,30.0" fill="rgb(194,194,194)" /><polygon points="585.0,95.0 600.0,92.0 612.0,100.0 612.0,118.0 600.0,126.0 588.0,120.0" fill="rgb(242,242,242)" /><use href="#lakeh" stroke="rgb(71,71,71)" stroke-width="26" opacity="0.80"/></g><use href="#v1" stroke="rgb(255,255,255)" opacity="0.12" stroke-width="1.2"/><use href="#v2" stroke="rgb(255,255,255)" opacity="0.25" stroke-width="1.6"/><use href="#v3" stroke="rgb(255,255,255)" opacity="0.40" stroke-width="2.4"/><g mask="url(#mCORR)"><use href="#v1" stroke="rgb(255,255,255)" opacity="0.45" stroke-width="2.2"/></g><g mask="url(#mCORR)"><use href="#v2" stroke="rgb(255,255,255)" opacity="0.55" stroke-width="3.8"/></g><g mask="url(#mCORR)"><use href="#v3" stroke="rgb(255,255,255)" opacity="0.55" stroke-width="5.5"/></g><g mask="url(#mC)"><use href="#v1" stroke="rgb(255,255,255)" opacity="0.25" stroke-width="1.6"/></g><g mask="url(#mC)"><use href="#v2" stroke="rgb(255,255,255)" opacity="0.35" stroke-width="2.6"/></g><g mask="url(#mSW)"><use href="#v1" stroke="rgb(255,255,255)" opacity="0.40" stroke-width="1.6"/></g><g mask="url(#mSW)"><use href="#v2" stroke="rgb(255,255,255)" opacity="0.50" stroke-width="2.6"/></g><g mask="url(#mSB)"><rect x="0" y="0" width="800" height="620" filter="url(#b2_0)"/></g><g mask="url(#mNEW)"><rect x="0" y="0" width="800" height="620" filter="url(#b2_1)"/></g><g mask="url(#mNE)"><rect x="0" y="0" width="800" height="620" filter="url(#b2_2)"/></g><g mask="url(#mLake)"><use href="#v1" stroke="#000" stroke-width="1.4"/><use href="#v2" stroke="#000" stroke-width="2.0"/><use href="#v3" stroke="#000" stroke-width="2.6"/></g><polygon points="681.5,56.6 686.5,51.6 700.0,46.6 720.0,43.3 743.0,39.0 763.0,39.0 769.7,43.3 772.0,53.0 774.7,66.6 779.0,74.0 775.5,81.6 770.0,91.5 769.0,88.0 774.5,79.4 769.7,81.3 764.8,71.6 766.8,67.7 762.0,56.0 756.0,49.3 750.0,46.4 743.0,45.8 720.0,47.8 700.0,49.6 689.0,55.0 685.0,61.0 683.0,85.0 674.0,85.0 676.0,70.0" fill="rgb(0,0,0)" /><polygon points="253.0,416.0 240.0,419.0 231.0,420.0 222.0,414.0 214.0,416.0 208.0,424.0 198.0,436.0 192.0,448.0 200.0,456.0 210.0,462.0 222.0,466.0 232.0,462.0 246.0,456.0 262.0,462.0 285.0,469.0 300.0,469.0 312.0,465.0 325.0,460.0 329.0,455.0 322.0,440.0 312.0,433.0 298.0,432.0 284.0,429.0 270.0,433.0 262.0,428.0 258.0,420.0" fill="rgb(20,20,20)" /><g clip-path="url(#cBlob)"><rect x="180" y="400" width="160" height="80" filter="url(#isl)"/><rect x="180" y="400" width="160" height="80" filter="url(#isl2)"/></g><use href="#lake" stroke="#000"/><use href="#river" stroke="#000"/></g></g></g>
<g transform="translate(2268,5)" filter="url(#rough)"><g clip-path="url(#clip)"><g filter="url(#q3)"><rect x="-60" y="-60" width="920" height="740" fill="rgb(79,79,79)"/><g filter="url(#blur)"><polygon points="424.0,67.0 460.0,50.0 500.0,45.0 550.0,60.0 600.0,100.0 690.0,150.0 692.0,215.0 670.0,245.0 640.0,262.0 613.0,283.0 585.0,295.0 535.0,328.0 502.0,350.0 452.0,335.0 463.0,261.0 424.0,217.0 435.0,161.0 413.0,106.0" fill="rgb(128,128,128)" /><polygon points="600.0,130.0 640.0,165.0 600.0,215.0 565.0,240.0 545.0,275.0 510.0,315.0 485.0,350.0 450.0,352.0 445.0,320.0 475.0,275.0 500.0,235.0 515.0,200.0 555.0,175.0 580.0,150.0" fill="rgb(153,153,153)" /><polygon points="550.0,0.0 800.0,0.0 800.0,145.0 690.0,152.0 655.0,165.0 625.0,152.0 612.0,130.0 590.0,128.0 570.0,108.0 548.0,80.0 548.0,30.0" fill="rgb(191,191,191)" /><polygon points="585.0,95.0 600.0,92.0 612.0,100.0 612.0,118.0 600.0,126.0 588.0,120.0" fill="rgb(242,242,242)" /><use href="#lakeh" stroke="rgb(71,71,71)" stroke-width="26" opacity="0.80"/></g><use href="#v1" stroke="rgb(255,255,255)" opacity="0.08" stroke-width="1.2"/><use href="#v2" stroke="rgb(255,255,255)" opacity="0.16" stroke-width="1.6"/><use href="#v3" stroke="rgb(255,255,255)" opacity="0.26" stroke-width="2.4"/><g mask="url(#mC3)"><use href="#v1" stroke="rgb(255,255,255)" opacity="0.15" stroke-width="1.5"/></g><g mask="url(#mC3)"><use href="#v2" stroke="rgb(255,255,255)" opacity="0.30" stroke-width="2.5"/></g><g mask="url(#mC3)"><use href="#v3" stroke="rgb(255,255,255)" opacity="0.35" stroke-width="4.0"/></g><g mask="url(#mCORR)"><use href="#v1" stroke="rgb(255,255,255)" opacity="0.30" stroke-width="2.0"/></g><g mask="url(#mCORR)"><use href="#v2" stroke="rgb(255,255,255)" opacity="0.40" stroke-width="3.5"/></g><g mask="url(#mSB)"><rect x="0" y="0" width="800" height="620" filter="url(#b3_0)"/></g><g mask="url(#mNEW)"><rect x="0" y="0" width="800" height="620" filter="url(#b3_1)"/></g><g mask="url(#mNE)"><rect x="0" y="0" width="800" height="620" filter="url(#b3_2)"/></g><g mask="url(#mLake)"><use href="#v1" stroke="#000" stroke-width="1.4"/><use href="#v2" stroke="#000" stroke-width="2.0"/><use href="#v3" stroke="#000" stroke-width="2.6"/></g><polygon points="681.5,56.6 686.5,51.6 700.0,46.6 720.0,43.3 743.0,39.0 763.0,39.0 769.7,43.3 772.0,53.0 774.7,66.6 779.0,74.0 775.5,81.6 770.0,91.5 769.0,88.0 774.5,79.4 769.7,81.3 764.8,71.6 766.8,67.7 762.0,56.0 756.0,49.3 750.0,46.4 743.0,45.8 720.0,47.8 700.0,49.6 689.0,55.0 685.0,61.0 683.0,85.0 674.0,85.0 676.0,70.0" fill="rgb(0,0,0)" /><polygon points="253.0,416.0 240.0,419.0 231.0,420.0 222.0,414.0 214.0,416.0 208.0,424.0 198.0,436.0 192.0,448.0 200.0,456.0 210.0,462.0 222.0,466.0 232.0,462.0 246.0,456.0 262.0,462.0 285.0,469.0 300.0,469.0 312.0,465.0 325.0,460.0 329.0,455.0 322.0,440.0 312.0,433.0 298.0,432.0 284.0,429.0 270.0,433.0 262.0,428.0 258.0,420.0" fill="rgb(20,20,20)" /><g clip-path="url(#cBlob)"><rect x="180" y="400" width="160" height="80" filter="url(#isl)"/><rect x="180" y="400" width="160" height="80" filter="url(#isl2)"/></g><use href="#lake" stroke="#000"/><use href="#river" stroke="#000"/></g></g></g>
<text x="94.4" y="63.0" class="tt">2000 <tspan dy="1.8">年</tspan></text><text x="860.5" y="63.0" class="tt">2005 <tspan dy="1.8">年</tspan></text><text x="1602.5" y="63.0" class="tt">2010 <tspan dy="1.8">年</tspan></text><text x="2354.5" y="63.0" class="tt">2015 <tspan dy="1.8">年</tspan></text>
<text x="373.0" y="610.4" class="lt">产水量<tspan dy="-2">/mm</tspan></text><rect x="372.0" y="625.1" width="77" height="2.2" fill="#dadadb"/><rect x="449.0" y="627.1" width="2" height="39.4" fill="#b6b6ba"/><rect x="372.0" y="627.1" width="77" height="39.4" fill="#60656d"/><rect x="374.0" y="629.1" width="74" height="35.4" fill="#C7DCDF"/><rect x="374.0" y="629.1" width="1.6" height="35.4" fill="#000" opacity="0.28"/><rect x="375.6" y="629.1" width="72.4" height="1.5" fill="#000" opacity="0.14"/><text x="469.9" y="657.5" class="lr">[313.58, 454.32)</text><rect x="372.0" y="675.6" width="77" height="2.2" fill="#dadadb"/><rect x="449.0" y="677.6" width="2" height="39.4" fill="#b6b6ba"/><rect x="372.0" y="677.6" width="77" height="39.4" fill="#60656d"/><rect x="374.0" y="679.6" width="74" height="35.4" fill="#98B3C3"/><rect x="374.0" y="679.6" width="1.6" height="35.4" fill="#000" opacity="0.28"/><rect x="375.6" y="679.6" width="72.4" height="1.5" fill="#000" opacity="0.14"/><text x="469.9" y="708.0" class="lr">[454.32, 732.75)</text><rect x="372.0" y="726.0" width="77" height="2.2" fill="#dadadb"/><rect x="449.0" y="728.0" width="2" height="39.4" fill="#b6b6ba"/><rect x="372.0" y="728.0" width="77" height="39.4" fill="#60656d"/><rect x="374.0" y="730.0" width="74" height="35.4" fill="#7093B0"/><rect x="374.0" y="730.0" width="1.6" height="35.4" fill="#000" opacity="0.28"/><rect x="375.6" y="730.0" width="72.4" height="1.5" fill="#000" opacity="0.14"/><text x="469.9" y="757.4" class="lr">[732.75, 812.30)</text><rect x="372.0" y="776.3" width="77" height="2.2" fill="#dadadb"/><rect x="449.0" y="778.3" width="2" height="39.4" fill="#b6b6ba"/><rect x="372.0" y="778.3" width="77" height="39.4" fill="#60656d"/><rect x="374.0" y="780.3" width="74" height="35.4" fill="#527699"/><rect x="374.0" y="780.3" width="1.6" height="35.4" fill="#000" opacity="0.28"/><rect x="375.6" y="780.3" width="72.4" height="1.5" fill="#000" opacity="0.14"/><text x="469.9" y="810.2" class="lr">[812.30, 931.62)</text><rect x="372.0" y="826.8" width="77" height="2.2" fill="#dadadb"/><rect x="449.0" y="828.8" width="2" height="39.4" fill="#b6b6ba"/><rect x="372.0" y="828.8" width="77" height="39.4" fill="#60656d"/><rect x="374.0" y="830.8" width="74" height="35.4" fill="#3E5F89"/><rect x="374.0" y="830.8" width="1.6" height="35.4" fill="#000" opacity="0.28"/><rect x="375.6" y="830.8" width="72.4" height="1.5" fill="#000" opacity="0.14"/><text x="469.9" y="858.9" class="lr">[931.62, 1 <tspan dx="1.7">0</tspan>93.78]</text><text x="1159.1" y="605.9" class="lt">产水量<tspan dy="-2">/mm</tspan></text><rect x="1159.1" y="618.7" width="77" height="2.2" fill="#dadadb"/><rect x="1236.1" y="620.7" width="2" height="39.4" fill="#b6b6ba"/><rect x="1159.1" y="620.7" width="77" height="39.4" fill="#60656d"/><rect x="1161.1" y="622.7" width="74" height="35.4" fill="#C7DCDF"/><rect x="1161.1" y="622.7" width="1.6" height="35.4" fill="#000" opacity="0.28"/><rect x="1162.7" y="622.7" width="72.4" height="1.5" fill="#000" opacity="0.14"/><text x="1250.1" y="649.9" class="lr">[144.94, 281.99)</text><rect x="1159.1" y="669.8" width="77" height="2.2" fill="#dadadb"/><rect x="1236.1" y="671.8" width="2" height="39.4" fill="#b6b6ba"/><rect x="1159.1" y="671.8" width="77" height="39.4" fill="#60656d"/><rect x="1161.1" y="673.8" width="74" height="35.4" fill="#98B3C3"/><rect x="1161.1" y="673.8" width="1.6" height="35.4" fill="#000" opacity="0.28"/><rect x="1162.7" y="673.8" width="72.4" height="1.5" fill="#000" opacity="0.14"/><text x="1250.1" y="704.8" class="lr">[281.99, 553.16)</text><rect x="1159.1" y="719.8" width="77" height="2.2" fill="#dadadb"/><rect x="1236.1" y="721.8" width="2" height="39.4" fill="#b6b6ba"/><rect x="1159.1" y="721.8" width="77" height="39.4" fill="#60656d"/><rect x="1161.1" y="723.8" width="74" height="35.4" fill="#7093B0"/><rect x="1161.1" y="723.8" width="1.6" height="35.4" fill="#000" opacity="0.28"/><rect x="1162.7" y="723.8" width="72.4" height="1.5" fill="#000" opacity="0.14"/><text x="1250.1" y="751.6" class="lr">[553.16, 631.88)</text><rect x="1159.1" y="771.3" width="77" height="2.2" fill="#dadadb"/><rect x="1236.1" y="773.3" width="2" height="39.4" fill="#b6b6ba"/><rect x="1159.1" y="773.3" width="77" height="39.4" fill="#60656d"/><rect x="1161.1" y="775.3" width="74" height="35.4" fill="#527699"/><rect x="1161.1" y="775.3" width="1.6" height="35.4" fill="#000" opacity="0.28"/><rect x="1162.7" y="775.3" width="72.4" height="1.5" fill="#000" opacity="0.14"/><text x="1250.1" y="805.0" class="lr">[631.88, 783.51)</text><rect x="1159.1" y="821.8" width="77" height="2.2" fill="#dadadb"/><rect x="1236.1" y="823.8" width="2" height="39.4" fill="#b6b6ba"/><rect x="1159.1" y="823.8" width="77" height="39.4" fill="#60656d"/><rect x="1161.1" y="825.8" width="74" height="35.4" fill="#3E5F89"/><rect x="1161.1" y="825.8" width="1.6" height="35.4" fill="#000" opacity="0.28"/><rect x="1162.7" y="825.8" width="72.4" height="1.5" fill="#000" opacity="0.14"/><text x="1250.1" y="853.9" class="lr">[783.51, 888.48]</text><text x="1852.5" y="607.9" class="lt">产水量<tspan dy="-2">/mm</tspan></text><rect x="1855.0" y="619.5" width="77" height="2.2" fill="#dadadb"/><rect x="1932.0" y="621.5" width="2" height="39.4" fill="#b6b6ba"/><rect x="1855.0" y="621.5" width="77" height="39.4" fill="#60656d"/><rect x="1857.0" y="623.5" width="74" height="35.4" fill="#C7DCDF"/><rect x="1857.0" y="623.5" width="1.6" height="35.4" fill="#000" opacity="0.28"/><rect x="1858.6" y="623.5" width="72.4" height="1.5" fill="#000" opacity="0.14"/><text x="1945.9" y="652.4" class="lr">[752.26, 828.31)</text><rect x="1855.0" y="670.1" width="77" height="2.2" fill="#dadadb"/><rect x="1932.0" y="672.1" width="2" height="39.4" fill="#b6b6ba"/><rect x="1855.0" y="672.1" width="77" height="39.4" fill="#60656d"/><rect x="1857.0" y="674.1" width="74" height="35.4" fill="#98B3C3"/><rect x="1857.0" y="674.1" width="1.6" height="35.4" fill="#000" opacity="0.28"/><rect x="1858.6" y="674.1" width="72.4" height="1.5" fill="#000" opacity="0.14"/><text x="1945.9" y="704.6" class="lr">[828.31, 1 <tspan dx="1.7">1</tspan>77.93)</text><rect x="1855.0" y="719.7" width="77" height="2.2" fill="#dadadb"/><rect x="1932.0" y="721.7" width="2" height="39.4" fill="#b6b6ba"/><rect x="1855.0" y="721.7" width="77" height="39.4" fill="#60656d"/><rect x="1857.0" y="723.7" width="74" height="35.4" fill="#7093B0"/><rect x="1857.0" y="723.7" width="1.6" height="35.4" fill="#000" opacity="0.28"/><rect x="1858.6" y="723.7" width="72.4" height="1.5" fill="#000" opacity="0.14"/><text x="1945.9" y="752.3" class="lr">[1 <tspan dx="1.7">1</tspan>77.93, 1 <tspan dx="1.7">2</tspan>60.35)</text><rect x="1855.0" y="771.5" width="77" height="2.2" fill="#dadadb"/><rect x="1932.0" y="773.5" width="2" height="39.4" fill="#b6b6ba"/><rect x="1855.0" y="773.5" width="77" height="39.4" fill="#60656d"/><rect x="1857.0" y="775.5" width="74" height="35.4" fill="#527699"/><rect x="1857.0" y="775.5" width="1.6" height="35.4" fill="#000" opacity="0.28"/><rect x="1858.6" y="775.5" width="72.4" height="1.5" fill="#000" opacity="0.14"/><text x="1945.9" y="806.1" class="lr">[1 <tspan dx="1.7">2</tspan>60.35, 1 <tspan dx="1.7">3</tspan>51.31)</text><rect x="1855.0" y="822.3" width="77" height="2.2" fill="#dadadb"/><rect x="1932.0" y="824.3" width="2" height="39.4" fill="#b6b6ba"/><rect x="1855.0" y="824.3" width="77" height="39.4" fill="#60656d"/><rect x="1857.0" y="826.3" width="74" height="35.4" fill="#3E5F89"/><rect x="1857.0" y="826.3" width="1.6" height="35.4" fill="#000" opacity="0.28"/><rect x="1858.6" y="826.3" width="72.4" height="1.5" fill="#000" opacity="0.14"/><text x="1945.9" y="853.8" class="lr">[1 <tspan dx="1.7">3</tspan>51.31, 1 <tspan dx="1.7">4</tspan>82.06]</text><text x="2619.1" y="607.6" class="lt">产水量<tspan dy="-2">/mm</tspan></text><rect x="2617.1" y="618.8" width="77" height="2.2" fill="#dadadb"/><rect x="2694.1" y="620.8" width="2" height="39.4" fill="#b6b6ba"/><rect x="2617.1" y="620.8" width="77" height="39.4" fill="#60656d"/><rect x="2619.1" y="622.8" width="74" height="35.4" fill="#C7DCDF"/><rect x="2619.1" y="622.8" width="1.6" height="35.4" fill="#000" opacity="0.28"/><rect x="2620.7" y="622.8" width="72.4" height="1.5" fill="#000" opacity="0.14"/><text x="2704.2" y="649.9" class="lr">[1 <tspan dx="1.7">0</tspan>41.42, 1 <tspan dx="1.7">2</tspan>39.45)</text><rect x="2617.1" y="670.1" width="77" height="2.2" fill="#dadadb"/><rect x="2694.1" y="672.1" width="2" height="39.4" fill="#b6b6ba"/><rect x="2617.1" y="672.1" width="77" height="39.4" fill="#60656d"/><rect x="2619.1" y="674.1" width="74" height="35.4" fill="#98B3C3"/><rect x="2619.1" y="674.1" width="1.6" height="35.4" fill="#000" opacity="0.28"/><rect x="2620.7" y="674.1" width="72.4" height="1.5" fill="#000" opacity="0.14"/><text x="2704.2" y="700.4" class="lr">[1 <tspan dx="1.7">2</tspan>39.45, 1 <tspan dx="1.7">4</tspan>47.23)</text><rect x="2617.1" y="719.7" width="77" height="2.2" fill="#dadadb"/><rect x="2694.1" y="721.7" width="2" height="39.4" fill="#b6b6ba"/><rect x="2617.1" y="721.7" width="77" height="39.4" fill="#60656d"/><rect x="2619.1" y="723.7" width="74" height="35.4" fill="#7093B0"/><rect x="2619.1" y="723.7" width="1.6" height="35.4" fill="#000" opacity="0.28"/><rect x="2620.7" y="723.7" width="72.4" height="1.5" fill="#000" opacity="0.14"/><text x="2704.2" y="750.5" class="lr">[1 <tspan dx="1.7">4</tspan>47.23, 1 <tspan dx="1.7">5</tspan>64.10)</text><rect x="2617.1" y="771.5" width="77" height="2.2" fill="#dadadb"/><rect x="2694.1" y="773.5" width="2" height="39.4" fill="#b6b6ba"/><rect x="2617.1" y="773.5" width="77" height="39.4" fill="#60656d"/><rect x="2619.1" y="775.5" width="74" height="35.4" fill="#527699"/><rect x="2619.1" y="775.5" width="1.6" height="35.4" fill="#000" opacity="0.28"/><rect x="2620.7" y="775.5" width="72.4" height="1.5" fill="#000" opacity="0.14"/><text x="2704.2" y="802.7" class="lr">[1 <tspan dx="1.7">5</tspan>64.10, 1 <tspan dx="1.7">7</tspan>10.20)</text><rect x="2617.1" y="822.3" width="77" height="2.2" fill="#dadadb"/><rect x="2694.1" y="824.3" width="2" height="39.4" fill="#b6b6ba"/><rect x="2617.1" y="824.3" width="77" height="39.4" fill="#60656d"/><rect x="2619.1" y="826.3" width="74" height="35.4" fill="#3E5F89"/><rect x="2619.1" y="826.3" width="1.6" height="35.4" fill="#000" opacity="0.28"/><rect x="2620.7" y="826.3" width="72.4" height="1.5" fill="#000" opacity="0.14"/><text x="2704.2" y="853.7" class="lr">[1 <tspan dx="1.7">7</tspan>10.20, 1 <tspan dx="1.7">8</tspan>69.27]</text>
<text x="3065.6" y="50.8" class="nn">北</text><polygon points="3088.9,58.3 3121.8,167 3088.9,128.9 3055.6,167.9" fill="#1a1718"/><polygon points="3090.3,70.8 3114.2,151.9 3090.3,121.9" fill="#fff"/>
</svg>
</body></html>
